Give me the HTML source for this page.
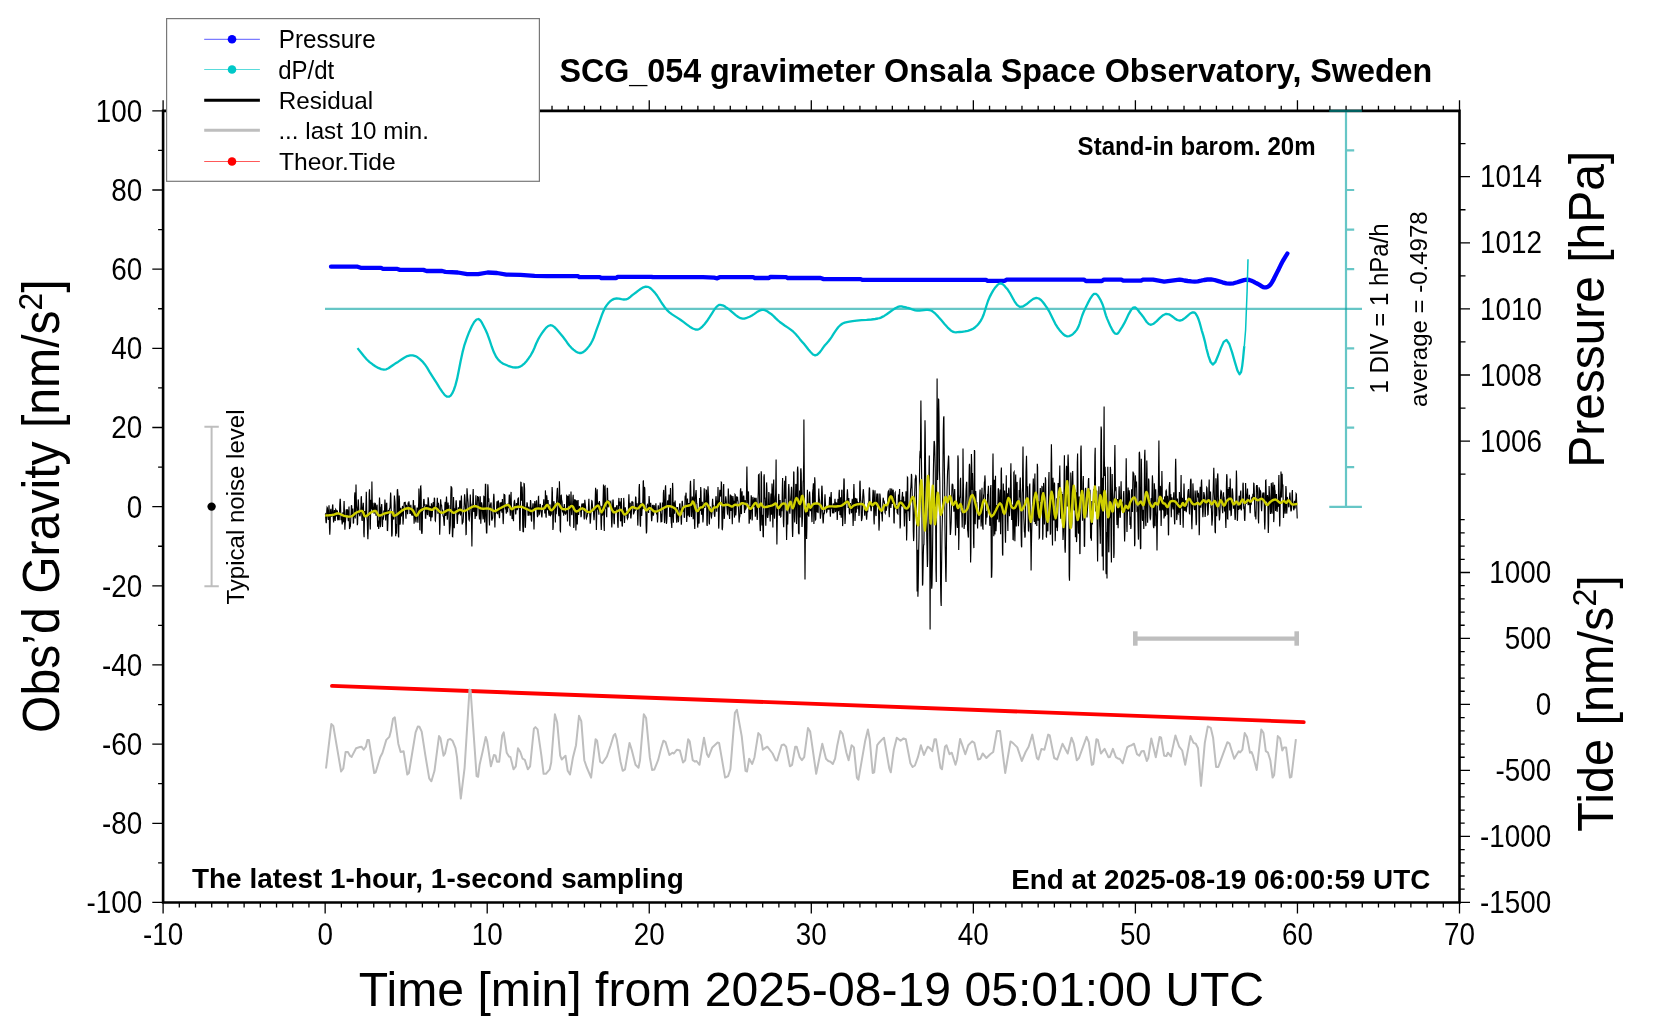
<!DOCTYPE html>
<html><head><meta charset="utf-8"><style>
html,body{margin:0;padding:0;background:#fff;}
svg{display:block;}
text{font-family:"Liberation Sans", sans-serif;fill:#000;filter:grayscale(1);}
</style></head><body>
<svg width="1660" height="1020" viewBox="0 0 1660 1020">
<rect width="1660" height="1020" fill="#fff"/>
<path d="M161.80 902.45 H1460.80 M161.80 110.85 H1460.80 M163.10 110.85 V902.45 M1459.50 110.85 V902.45" stroke="#000" fill="none" stroke-width="2.6"/>
<path d="M163.10 902.45 V913.45 M163.10 110.85 V100.35 M179.31 902.45 V907.45 M179.31 110.85 V105.65 M195.51 902.45 V907.45 M195.51 110.85 V105.65 M211.72 902.45 V907.45 M211.72 110.85 V105.65 M227.92 902.45 V907.45 M227.92 110.85 V105.65 M244.12 902.45 V907.45 M244.12 110.85 V105.65 M260.33 902.45 V907.45 M260.33 110.85 V105.65 M276.54 902.45 V907.45 M276.54 110.85 V105.65 M292.74 902.45 V907.45 M292.74 110.85 V105.65 M308.94 902.45 V907.45 M308.94 110.85 V105.65 M325.15 902.45 V913.45 M325.15 110.85 V100.35 M341.36 902.45 V907.45 M341.36 110.85 V105.65 M357.56 902.45 V907.45 M357.56 110.85 V105.65 M373.76 902.45 V907.45 M373.76 110.85 V105.65 M389.97 902.45 V907.45 M389.97 110.85 V105.65 M406.17 902.45 V907.45 M406.17 110.85 V105.65 M422.38 902.45 V907.45 M422.38 110.85 V105.65 M438.59 902.45 V907.45 M438.59 110.85 V105.65 M454.79 902.45 V907.45 M454.79 110.85 V105.65 M471.00 902.45 V907.45 M471.00 110.85 V105.65 M487.20 902.45 V913.45 M487.20 110.85 V100.35 M503.40 902.45 V907.45 M503.40 110.85 V105.65 M519.61 902.45 V907.45 M519.61 110.85 V105.65 M535.82 902.45 V907.45 M535.82 110.85 V105.65 M552.02 902.45 V907.45 M552.02 110.85 V105.65 M568.23 902.45 V907.45 M568.23 110.85 V105.65 M584.43 902.45 V907.45 M584.43 110.85 V105.65 M600.63 902.45 V907.45 M600.63 110.85 V105.65 M616.84 902.45 V907.45 M616.84 110.85 V105.65 M633.05 902.45 V907.45 M633.05 110.85 V105.65 M649.25 902.45 V913.45 M649.25 110.85 V100.35 M665.46 902.45 V907.45 M665.46 110.85 V105.65 M681.66 902.45 V907.45 M681.66 110.85 V105.65 M697.87 902.45 V907.45 M697.87 110.85 V105.65 M714.07 902.45 V907.45 M714.07 110.85 V105.65 M730.27 902.45 V907.45 M730.27 110.85 V105.65 M746.48 902.45 V907.45 M746.48 110.85 V105.65 M762.69 902.45 V907.45 M762.69 110.85 V105.65 M778.89 902.45 V907.45 M778.89 110.85 V105.65 M795.10 902.45 V907.45 M795.10 110.85 V105.65 M811.30 902.45 V913.45 M811.30 110.85 V100.35 M827.50 902.45 V907.45 M827.50 110.85 V105.65 M843.71 902.45 V907.45 M843.71 110.85 V105.65 M859.92 902.45 V907.45 M859.92 110.85 V105.65 M876.12 902.45 V907.45 M876.12 110.85 V105.65 M892.33 902.45 V907.45 M892.33 110.85 V105.65 M908.53 902.45 V907.45 M908.53 110.85 V105.65 M924.74 902.45 V907.45 M924.74 110.85 V105.65 M940.94 902.45 V907.45 M940.94 110.85 V105.65 M957.15 902.45 V907.45 M957.15 110.85 V105.65 M973.35 902.45 V913.45 M973.35 110.85 V100.35 M989.56 902.45 V907.45 M989.56 110.85 V105.65 M1005.76 902.45 V907.45 M1005.76 110.85 V105.65 M1021.97 902.45 V907.45 M1021.97 110.85 V105.65 M1038.17 902.45 V907.45 M1038.17 110.85 V105.65 M1054.38 902.45 V907.45 M1054.38 110.85 V105.65 M1070.58 902.45 V907.45 M1070.58 110.85 V105.65 M1086.79 902.45 V907.45 M1086.79 110.85 V105.65 M1102.99 902.45 V907.45 M1102.99 110.85 V105.65 M1119.19 902.45 V907.45 M1119.19 110.85 V105.65 M1135.40 902.45 V913.45 M1135.40 110.85 V100.35 M1151.61 902.45 V907.45 M1151.61 110.85 V105.65 M1167.81 902.45 V907.45 M1167.81 110.85 V105.65 M1184.02 902.45 V907.45 M1184.02 110.85 V105.65 M1200.22 902.45 V907.45 M1200.22 110.85 V105.65 M1216.42 902.45 V907.45 M1216.42 110.85 V105.65 M1232.63 902.45 V907.45 M1232.63 110.85 V105.65 M1248.84 902.45 V907.45 M1248.84 110.85 V105.65 M1265.04 902.45 V907.45 M1265.04 110.85 V105.65 M1281.24 902.45 V907.45 M1281.24 110.85 V105.65 M1297.45 902.45 V913.45 M1297.45 110.85 V100.35 M1313.65 902.45 V907.45 M1313.65 110.85 V105.65 M1329.86 902.45 V907.45 M1329.86 110.85 V105.65 M1346.07 902.45 V907.45 M1346.07 110.85 V105.65 M1362.27 902.45 V907.45 M1362.27 110.85 V105.65 M1378.47 902.45 V907.45 M1378.47 110.85 V105.65 M1394.68 902.45 V907.45 M1394.68 110.85 V105.65 M1410.88 902.45 V907.45 M1410.88 110.85 V105.65 M1427.09 902.45 V907.45 M1427.09 110.85 V105.65 M1443.30 902.45 V907.45 M1443.30 110.85 V105.65 M1459.50 902.45 V913.45 M1459.50 110.85 V100.35 M163.10 902.45 H152.30 M163.10 862.87 H158.10 M163.10 823.29 H152.30 M163.10 783.71 H158.10 M163.10 744.13 H152.30 M163.10 704.55 H158.10 M163.10 664.97 H152.30 M163.10 625.39 H158.10 M163.10 585.81 H152.30 M163.10 546.23 H158.10 M163.10 506.65 H152.30 M163.10 467.07 H158.10 M163.10 427.49 H152.30 M163.10 387.91 H158.10 M163.10 348.33 H152.30 M163.10 308.75 H158.10 M163.10 269.17 H152.30 M163.10 229.59 H158.10 M163.10 190.01 H152.30 M163.10 150.43 H158.10 M163.10 110.85 H152.30 M1459.50 474.15 H1465.50 M1459.50 441.10 H1470.00 M1459.50 408.05 H1465.50 M1459.50 375.00 H1470.00 M1459.50 341.95 H1465.50 M1459.50 308.90 H1470.00 M1459.50 275.85 H1465.50 M1459.50 242.80 H1470.00 M1459.50 209.75 H1465.50 M1459.50 176.70 H1470.00 M1459.50 143.65 H1465.50 M1459.50 902.41 H1470.00 M1459.50 889.21 H1464.70 M1459.50 876.01 H1464.70 M1459.50 862.81 H1464.70 M1459.50 849.62 H1464.70 M1459.50 836.42 H1470.00 M1459.50 823.22 H1464.70 M1459.50 810.03 H1464.70 M1459.50 796.83 H1464.70 M1459.50 783.63 H1464.70 M1459.50 770.44 H1470.00 M1459.50 757.24 H1464.70 M1459.50 744.04 H1464.70 M1459.50 730.84 H1464.70 M1459.50 717.65 H1464.70 M1459.50 704.45 H1470.00 M1459.50 691.25 H1464.70 M1459.50 678.06 H1464.70 M1459.50 664.86 H1464.70 M1459.50 651.66 H1464.70 M1459.50 638.47 H1470.00 M1459.50 625.27 H1464.70 M1459.50 612.07 H1464.70 M1459.50 598.87 H1464.70 M1459.50 585.68 H1464.70 M1459.50 572.48 H1470.00 M1459.50 559.28 H1464.70 M1459.50 546.09 H1464.70 M1459.50 532.89 H1464.70 M1459.50 519.69 H1464.70" stroke="#000" fill="none" stroke-width="1.3"/>
<path d="M211.6 426.8 V586.3 M204.4 426.8 H218.8 M204.4 586.3 H218.8" stroke="#bebebe" stroke-width="2" fill="none"/>
<circle cx="211.6" cy="506.6" r="4.2" fill="#000"/>
<path d="M1135 638.7 H1297" stroke="#bebebe" stroke-width="4.2" fill="none"/>
<rect x="1133" y="631.3" width="4.6" height="14.4" fill="#bebebe"/><rect x="1294.4" y="631.3" width="4.6" height="14.4" fill="#bebebe"/>
<path d="M1346 110.8 V506.8 M1329.3 110.8 H1361.9 M1329.3 506.8 H1361.9 M1346 150.4 H1354.2 M1346 190.0 H1354.2 M1346 229.6 H1354.2 M1346 269.2 H1354.2 M1346 348.4 H1354.2 M1346 388.0 H1354.2 M1346 427.6 H1354.2 M1346 467.2 H1354.2" stroke="#00a0a0" stroke-opacity="0.6" stroke-width="2.2" fill="none"/>
<path d="M325 308.9 H1362" stroke="#00a0a0" stroke-opacity="0.6" stroke-width="2.2" fill="none"/>
<path d="M331.0 266.7 L357.6 266.7 L360.7 267.8 L381.0 267.8 L382.6 268.8 L396.7 268.8 L399.9 269.9 L423.4 269.9 L426.5 271.0 L442.2 271.0 L445.3 271.9 L457.8 272.5 L467.2 274.1 L478.2 274.1 L487.6 272.5 L497.0 273.0 L506.4 274.6 L520.5 274.9 L534.6 275.8 L547.1 276.1 L564.3 276.1 L577.8 276.1 L579.4 277.2 L599.8 277.2 L601.3 278.0 L616.2 278.0 L617.8 276.8 L651.4 276.8 L653.0 277.2 L703.0 277.2 L714.1 277.7 L717.2 278.3 L719.6 277.2 L753.2 277.2 L754.8 278.0 L768.9 278.0 L770.5 276.8 L786.1 277.2 L787.7 278.0 L820.6 278.0 L823.7 279.1 L860.7 279.1 L862.3 279.9 L986.0 279.9 L987.6 280.8 L1004.8 280.8 L1006.4 279.7 L1083.9 279.6 L1085.9 281.0 L1101.9 281.0 L1103.9 279.6 L1121.3 279.6 L1123.3 280.7 L1140.7 280.7 L1143.4 279.6 L1153.1 279.6 L1164.2 281.7 L1179.5 279.6 L1181.6 279.9 L1184.4 280.5 L1187.8 281.0 L1191.4 281.4 L1194.7 281.6 L1197.8 281.3 L1201.0 280.7 L1204.2 280.0 L1207.5 279.5 L1210.9 279.4 L1214.6 280.0 L1218.4 281.1 L1222.4 282.3 L1226.3 283.3 L1230.0 283.7 L1233.6 283.3 L1237.2 282.3 L1240.7 281.1 L1244.0 280.1 L1246.9 279.7 L1249.4 280.0 L1251.5 280.7 L1253.5 281.6 L1255.2 282.6 L1257.0 283.5 L1258.7 284.4 L1260.3 285.4 L1261.8 286.3 L1263.2 287.1 L1264.6 287.4 L1265.9 287.4 L1267.0 287.2 L1268.2 286.6 L1269.3 285.8 L1270.5 284.5 L1271.8 282.6 L1273.2 280.2 L1274.5 277.5 L1275.9 274.8 L1277.1 272.4 L1278.2 270.3 L1279.2 268.2 L1280.1 266.3 L1281.0 264.4 L1282.0 262.5 L1283.1 260.5 L1284.4 258.4 L1285.6 256.4 L1286.7 254.7 L1287.4 253.5" stroke="#0000ff" stroke-width="4.3" fill="none" stroke-linejoin="round" stroke-linecap="round"/>
<path d="M357.5 348.1 L359.1 350.1 L361.4 353.0 L364.0 356.3 L366.8 359.5 L369.6 362.1 L372.4 364.2 L375.3 366.2 L378.3 367.9 L381.2 369.1 L383.9 369.6 L386.3 369.3 L388.5 368.3 L390.6 366.8 L392.8 365.2 L395.2 363.6 L398.0 361.9 L401.1 359.8 L404.2 357.7 L407.3 356.1 L410.2 355.3 L412.8 355.4 L415.3 356.1 L417.6 357.3 L419.9 359.1 L422.3 361.3 L424.7 364.2 L427.1 367.7 L429.4 371.6 L431.9 375.6 L434.3 379.4 L436.9 383.4 L439.6 387.8 L442.3 391.9 L444.8 395.1 L447.1 396.7 L449.0 396.7 L450.7 395.6 L452.2 393.4 L453.8 390.0 L455.4 385.4 L457.1 378.9 L458.8 370.5 L460.6 361.3 L462.5 352.4 L464.5 344.8 L466.8 338.2 L469.2 331.9 L471.8 326.3 L474.2 322.0 L476.5 319.5 L478.5 319.0 L480.2 320.2 L481.9 322.7 L483.6 326.0 L485.5 329.7 L487.5 334.3 L489.6 340.2 L491.7 346.5 L493.9 352.3 L496.1 356.8 L498.4 359.9 L500.8 362.1 L503.2 363.7 L505.7 364.8 L508.1 365.8 L510.5 366.7 L513.0 367.3 L515.5 367.5 L517.9 367.3 L520.2 366.6 L522.4 365.2 L524.6 363.3 L526.7 360.9 L528.7 358.2 L530.7 355.3 L532.6 351.9 L534.4 348.0 L536.1 343.8 L537.9 339.9 L539.8 336.5 L541.8 333.4 L543.9 330.5 L546.0 327.9 L548.2 326.0 L550.3 325.2 L552.4 325.6 L554.5 327.1 L556.6 329.3 L558.7 331.8 L560.8 334.2 L562.9 336.8 L565.1 339.7 L567.2 342.7 L569.3 345.5 L571.4 347.8 L573.4 349.6 L575.4 351.2 L577.3 352.4 L579.3 353.0 L581.2 353.0 L583.2 352.1 L585.3 350.5 L587.3 348.4 L589.3 345.9 L591.0 343.3 L592.5 340.5 L593.8 337.5 L595.0 334.2 L596.2 330.7 L597.5 327.2 L598.9 323.3 L600.4 319.1 L601.9 314.9 L603.5 311.0 L605.1 307.7 L606.8 305.1 L608.5 303.0 L610.2 301.2 L612.1 299.9 L614.1 298.9 L616.4 298.5 L618.9 298.7 L621.5 299.2 L623.9 299.5 L626.1 299.4 L627.8 298.7 L629.2 297.8 L630.6 296.7 L632.0 295.4 L633.7 294.1 L635.9 292.5 L638.3 290.6 L640.9 288.7 L643.4 287.3 L645.7 286.6 L647.7 286.8 L649.4 287.5 L651.1 288.7 L652.8 290.5 L654.8 292.6 L657.0 295.5 L659.3 299.1 L661.7 303.0 L664.3 306.7 L666.8 309.9 L669.4 312.3 L672.1 314.4 L674.8 316.1 L677.6 317.9 L680.4 319.7 L683.4 321.9 L686.6 324.3 L689.8 326.7 L692.8 328.5 L695.4 329.5 L697.6 329.6 L699.3 329.0 L700.9 327.9 L702.6 326.3 L704.5 324.2 L706.8 321.3 L709.4 317.4 L712.0 313.3 L714.4 309.5 L716.5 306.9 L718.1 305.5 L719.3 304.9 L720.4 304.9 L721.4 305.1 L722.5 305.4 L723.6 305.7 L724.6 306.3 L725.7 307.1 L727.0 308.0 L728.6 309.2 L730.7 310.8 L733.1 312.9 L735.7 315.1 L738.3 317.0 L740.6 318.2 L742.5 318.7 L744.3 318.6 L745.9 318.2 L747.6 317.5 L749.6 316.7 L751.9 315.5 L754.4 313.9 L756.9 312.1 L759.4 310.7 L761.7 309.9 L763.7 309.9 L765.5 310.4 L767.2 311.3 L768.9 312.5 L770.7 313.7 L772.4 315.0 L774.1 316.6 L775.8 318.4 L777.7 320.2 L779.8 322.0 L782.3 323.8 L785.0 325.7 L787.9 327.6 L790.7 329.6 L793.3 331.7 L795.6 334.0 L797.7 336.4 L799.7 338.9 L801.8 341.4 L803.9 343.8 L806.1 346.5 L808.4 349.5 L810.8 352.3 L813.0 354.5 L815.2 355.4 L817.3 354.7 L819.4 352.7 L821.4 350.1 L823.3 347.4 L824.9 345.3 L826.1 344.0 L827.0 343.0 L827.8 342.1 L828.7 341.0 L830.0 339.3 L831.7 336.8 L833.7 333.7 L835.9 330.4 L838.2 327.3 L840.5 325.0 L842.6 323.5 L844.7 322.6 L846.9 322.1 L849.5 321.7 L852.6 321.2 L856.7 320.7 L861.5 320.2 L866.6 319.9 L871.4 319.5 L875.2 319.0 L877.8 318.5 L879.6 318.1 L880.9 317.6 L882.3 316.9 L884.2 315.9 L886.7 314.3 L889.5 312.3 L892.5 310.1 L895.3 308.2 L897.8 306.9 L899.9 306.4 L901.7 306.4 L903.3 306.8 L905.0 307.2 L906.8 307.7 L908.8 308.2 L910.9 308.9 L913.0 309.7 L915.2 310.3 L917.3 310.7 L919.5 310.7 L921.7 310.4 L923.9 310.1 L926.0 309.8 L927.9 309.9 L929.5 310.2 L930.8 310.5 L932.0 311.0 L933.5 312.1 L935.4 313.7 L938.0 316.4 L941.2 320.1 L944.5 324.0 L947.7 327.6 L950.5 330.2 L952.6 331.6 L954.3 332.2 L955.9 332.4 L957.5 332.2 L959.5 332.0 L962.0 331.8 L964.8 331.4 L967.8 330.8 L970.6 329.9 L973.1 328.7 L975.2 327.2 L977.1 325.5 L978.8 323.5 L980.5 321.1 L982.1 318.2 L983.7 314.5 L985.1 310.2 L986.5 305.5 L988.0 301.0 L989.6 297.1 L991.4 293.6 L993.4 290.2 L995.5 287.2 L997.5 284.9 L999.4 283.6 L1001.1 283.4 L1002.6 284.1 L1004.2 285.5 L1005.8 287.4 L1007.7 289.6 L1009.8 292.8 L1012.1 297.0 L1014.5 301.3 L1017.0 304.9 L1019.8 306.9 L1022.9 306.5 L1026.4 304.3 L1029.9 301.4 L1033.3 298.9 L1036.3 297.9 L1038.8 298.5 L1041.0 300.0 L1043.0 302.2 L1044.9 304.8 L1046.9 307.7 L1049.0 311.1 L1051.1 315.3 L1053.3 319.7 L1055.3 323.8 L1057.4 327.2 L1059.4 329.9 L1061.4 332.3 L1063.3 334.3 L1065.3 335.7 L1067.2 336.3 L1069.2 336.1 L1071.2 335.3 L1073.2 333.8 L1075.1 331.9 L1076.9 329.6 L1078.4 326.8 L1079.7 323.3 L1080.9 319.5 L1082.2 315.5 L1083.7 311.8 L1085.6 307.8 L1087.7 303.4 L1089.9 299.2 L1092.1 295.8 L1094.0 293.9 L1095.7 293.8 L1097.3 294.9 L1098.8 297.0 L1100.3 299.6 L1101.6 302.2 L1102.8 305.0 L1103.8 308.2 L1104.8 311.7 L1105.9 315.3 L1107.1 318.6 L1108.6 322.1 L1110.2 325.8 L1112.0 329.3 L1113.7 332.1 L1115.3 333.7 L1116.7 333.9 L1118.0 333.2 L1119.2 331.6 L1120.6 329.4 L1122.2 326.9 L1124.2 323.4 L1126.4 318.9 L1128.7 314.1 L1131.0 310.1 L1133.1 307.7 L1134.9 307.3 L1136.5 308.4 L1138.1 310.3 L1139.7 312.5 L1141.4 314.5 L1143.1 316.7 L1144.9 319.4 L1146.7 322.0 L1148.7 324.0 L1151.0 324.8 L1153.7 323.7 L1156.7 321.1 L1159.9 317.9 L1163.1 315.2 L1166.1 313.8 L1169.0 314.3 L1171.7 316.0 L1174.5 318.2 L1177.2 320.0 L1179.8 320.7 L1182.5 319.8 L1185.2 317.9 L1187.8 315.6 L1190.2 313.5 L1192.2 312.5 L1193.7 312.4 L1194.9 312.9 L1195.8 313.8 L1196.7 315.3 L1197.7 317.3 L1198.7 319.8 L1199.7 322.9 L1200.7 326.5 L1201.8 330.6 L1203.2 335.1 L1204.8 341.1 L1206.5 348.7 L1208.5 356.1 L1210.6 362.0 L1212.8 364.6 L1215.3 362.2 L1218.0 355.8 L1220.9 348.1 L1223.7 341.9 L1226.5 339.9 L1229.3 344.0 L1232.1 352.4 L1234.9 362.1 L1237.4 370.4 L1239.5 374.2 L1241.1 372.1 L1242.2 366.1 L1243.1 358.3 L1243.8 350.9 L1244.3 346.1" stroke="#00c4c4" stroke-width="2.3" fill="none" stroke-linejoin="round"/>
<path d="M1244.3 346.1 L1245.6 330 L1247.1 291.2 L1248 259.3" stroke="#00c4c4" stroke-width="1.5" fill="none" stroke-linejoin="round"/>
<path d="M325.2 514.6 L325.5 514.2 L325.7 517.4 L326.0 522.1 L326.3 523.2 L326.6 517.6 L326.8 510.3 L327.1 507.4 L327.4 507.9 L327.6 510.3 L327.9 513.7 L328.2 518.9 L328.4 520.0 L328.7 511.4 L329.0 505.3 L329.3 512.7 L329.5 527.9 L329.8 534.8 L330.1 528.6 L330.3 517.9 L330.6 510.4 L330.9 508.9 L331.1 512.0 L331.4 516.0 L331.7 516.2 L332.0 515.6 L332.2 512.6 L332.5 506.0 L332.8 504.4 L333.0 509.8 L333.3 518.3 L333.6 522.5 L333.8 520.0 L334.1 514.2 L334.4 510.0 L334.7 511.8 L334.9 518.0 L335.2 521.0 L335.5 515.6 L335.7 509.4 L336.0 509.9 L336.3 510.6 L336.5 513.4 L336.8 516.5 L337.1 511.3 L337.4 510.5 L337.6 518.8 L337.9 520.3 L338.2 517.0 L338.4 515.0 L338.7 514.0 L339.0 518.1 L339.2 520.3 L339.5 512.9 L339.8 504.2 L340.1 499.4 L340.3 499.4 L340.6 506.6 L340.9 516.4 L341.1 520.1 L341.4 516.7 L341.7 516.7 L341.9 521.2 L342.2 524.5 L342.5 521.1 L342.8 512.8 L343.0 512.4 L343.3 521.7 L343.6 521.3 L343.8 508.6 L344.1 501.1 L344.4 509.9 L344.7 525.3 L344.9 529.7 L345.2 523.8 L345.5 520.9 L345.7 518.4 L346.0 511.7 L346.3 509.4 L346.5 513.2 L346.8 515.3 L347.1 512.6 L347.4 509.4 L347.6 510.6 L347.9 514.8 L348.2 520.2 L348.4 521.1 L348.7 512.0 L349.0 506.6 L349.2 516.2 L349.5 529.0 L349.8 527.8 L350.1 523.8 L350.3 527.3 L350.6 522.7 L350.9 515.9 L351.1 513.2 L351.4 505.2 L351.7 505.8 L351.9 514.1 L352.2 514.6 L352.5 510.5 L352.8 508.5 L353.0 512.6 L353.3 523.5 L353.6 522.8 L353.8 513.6 L354.1 516.9 L354.4 516.0 L354.6 496.4 L354.9 492.4 L355.2 518.5 L355.5 512.1 L355.7 502.9 L356.0 484.6 L356.3 498.2 L356.5 505.3 L356.8 508.1 L357.1 515.4 L357.3 525.2 L357.6 523.7 L357.9 509.5 L358.2 499.4 L358.4 500.6 L358.7 507.7 L359.0 513.0 L359.2 514.0 L359.5 514.5 L359.8 516.2 L360.1 515.3 L360.3 513.4 L360.6 512.0 L360.9 506.5 L361.1 498.2 L361.4 496.2 L361.7 507.1 L361.9 519.4 L362.2 520.9 L362.5 514.1 L362.8 508.2 L363.0 506.1 L363.3 502.8 L363.6 510.9 L363.8 533.1 L364.1 537.3 L364.4 521.3 L364.6 511.0 L364.9 513.2 L365.2 516.5 L365.5 514.6 L365.7 513.1 L366.0 504.1 L366.3 491.8 L366.5 499.8 L366.8 515.4 L367.1 519.3 L367.3 521.0 L367.6 533.4 L367.9 539.2 L368.2 529.5 L368.4 514.9 L368.7 515.9 L369.0 509.5 L369.2 493.2 L369.5 489.3 L369.8 499.9 L370.0 524.8 L370.3 529.5 L370.6 513.8 L370.9 499.7 L371.1 508.2 L371.4 508.5 L371.7 499.7 L371.9 481.6 L372.2 499.2 L372.5 507.9 L372.7 511.4 L373.0 502.9 L373.3 507.0 L373.6 510.3 L373.8 511.0 L374.1 513.6 L374.4 511.0 L374.6 503.9 L374.9 503.2 L375.2 503.5 L375.4 503.7 L375.7 511.4 L376.0 515.6 L376.3 514.7 L376.5 510.7 L376.8 505.3 L377.1 504.7 L377.3 513.1 L377.6 525.7 L377.9 526.8 L378.2 520.5 L378.4 523.5 L378.7 529.0 L379.0 522.4 L379.2 506.2 L379.5 497.5 L379.8 503.8 L380.0 518.2 L380.3 527.2 L380.6 524.6 L380.9 512.8 L381.1 506.8 L381.4 507.8 L381.7 504.1 L381.9 507.5 L382.2 521.8 L382.5 526.9 L382.7 518.9 L383.0 517.3 L383.3 519.7 L383.6 515.8 L383.8 510.4 L384.1 511.5 L384.4 514.7 L384.6 508.0 L384.9 499.5 L385.2 503.7 L385.4 516.5 L385.7 520.5 L386.0 513.6 L386.3 507.9 L386.5 503.2 L386.8 503.2 L387.1 517.0 L387.3 530.3 L387.6 530.4 L387.9 522.4 L388.1 512.2 L388.4 510.1 L388.7 513.9 L389.0 513.4 L389.2 510.4 L389.5 508.8 L389.8 508.4 L390.0 507.7 L390.3 501.1 L390.6 492.6 L390.8 494.5 L391.1 505.7 L391.4 518.8 L391.7 535.8 L391.9 536.5 L392.2 533.2 L392.5 516.4 L392.7 513.6 L393.0 514.5 L393.3 515.4 L393.6 519.5 L393.8 519.0 L394.1 506.1 L394.4 495.5 L394.6 498.3 L394.9 501.2 L395.2 505.5 L395.4 522.6 L395.7 536.3 L396.0 529.4 L396.3 524.0 L396.5 533.8 L396.8 524.2 L397.1 497.7 L397.3 489.9 L397.6 489.7 L397.9 493.8 L398.1 511.2 L398.4 536.1 L398.7 537.4 L399.0 516.9 L399.2 495.6 L399.5 501.3 L399.8 516.6 L400.0 524.6 L400.3 522.9 L400.6 513.6 L400.8 507.7 L401.1 511.1 L401.4 516.4 L401.7 511.0 L401.9 512.4 L402.2 512.7 L402.5 505.9 L402.7 513.5 L403.0 524.6 L403.3 520.8 L403.5 512.1 L403.8 507.4 L404.1 503.7 L404.4 502.2 L404.6 503.3 L404.9 503.0 L405.2 501.8 L405.4 505.2 L405.7 514.4 L406.0 518.8 L406.2 510.7 L406.5 504.8 L406.8 508.7 L407.1 510.1 L407.3 510.6 L407.6 514.3 L407.9 508.4 L408.1 502.6 L408.4 506.5 L408.7 504.9 L408.9 501.2 L409.2 504.3 L409.5 506.7 L409.8 509.6 L410.0 514.0 L410.3 512.6 L410.6 507.0 L410.8 504.8 L411.1 508.1 L411.4 513.2 L411.7 515.5 L411.9 512.2 L412.2 508.6 L412.5 511.7 L412.7 515.8 L413.0 510.1 L413.3 500.0 L413.5 501.4 L413.8 514.5 L414.1 523.7 L414.4 518.6 L414.6 509.0 L414.9 505.4 L415.2 509.2 L415.4 515.1 L415.7 520.4 L416.0 522.4 L416.2 518.2 L416.5 515.5 L416.8 513.3 L417.1 507.6 L417.3 508.6 L417.6 518.8 L417.9 522.8 L418.1 518.1 L418.4 508.5 L418.7 502.4 L418.9 488.6 L419.2 497.9 L419.5 506.0 L419.8 529.7 L420.0 529.8 L420.3 499.9 L420.6 486.3 L420.8 486.1 L421.1 491.8 L421.4 515.4 L421.6 532.2 L421.9 534.0 L422.2 531.5 L422.5 513.1 L422.7 507.0 L423.0 511.1 L423.3 509.7 L423.5 502.9 L423.8 499.0 L424.1 499.9 L424.3 504.3 L424.6 505.6 L424.9 504.1 L425.2 509.6 L425.4 518.1 L425.7 518.2 L426.0 512.0 L426.2 507.1 L426.5 505.0 L426.8 505.1 L427.0 508.1 L427.3 514.3 L427.6 515.0 L427.9 505.1 L428.1 497.3 L428.4 498.9 L428.7 503.3 L428.9 508.1 L429.2 514.8 L429.5 516.7 L429.8 511.7 L430.0 506.5 L430.3 506.7 L430.6 515.1 L430.8 521.2 L431.1 513.1 L431.4 503.2 L431.6 507.8 L431.9 517.3 L432.2 516.7 L432.5 509.7 L432.7 505.8 L433.0 503.7 L433.3 502.0 L433.5 505.5 L433.8 509.2 L434.1 504.9 L434.3 497.8 L434.6 498.4 L434.9 508.9 L435.2 520.6 L435.4 520.9 L435.7 515.2 L436.0 511.7 L436.2 507.7 L436.5 506.7 L436.8 508.5 L437.0 504.9 L437.3 497.7 L437.6 503.0 L437.9 513.8 L438.1 510.6 L438.4 502.7 L438.7 505.4 L438.9 507.4 L439.2 510.2 L439.5 524.2 L439.7 534.7 L440.0 526.6 L440.3 509.7 L440.6 499.3 L440.8 501.4 L441.1 506.1 L441.4 505.0 L441.6 505.4 L441.9 509.5 L442.2 511.8 L442.4 510.1 L442.7 510.5 L443.0 515.6 L443.3 516.5 L443.5 516.4 L443.8 520.5 L444.1 525.0 L444.3 525.8 L444.6 516.5 L444.9 504.3 L445.2 501.9 L445.4 508.7 L445.7 515.9 L446.0 513.1 L446.2 501.4 L446.5 496.5 L446.8 502.4 L447.0 512.8 L447.3 519.8 L447.6 517.2 L447.9 505.5 L448.1 502.6 L448.4 508.8 L448.7 506.0 L448.9 505.9 L449.2 522.0 L449.5 534.3 L449.7 532.3 L450.0 528.6 L450.3 525.3 L450.6 511.4 L450.8 495.3 L451.1 486.7 L451.4 486.9 L451.6 487.2 L451.9 488.7 L452.2 521.9 L452.4 536.5 L452.7 536.7 L453.0 529.8 L453.3 510.0 L453.5 497.1 L453.8 506.6 L454.1 526.3 L454.3 528.2 L454.6 516.1 L454.9 509.7 L455.1 510.1 L455.4 511.1 L455.7 508.1 L456.0 501.6 L456.2 500.3 L456.5 505.1 L456.8 511.1 L457.0 518.5 L457.3 524.0 L457.6 519.6 L457.8 513.1 L458.1 510.4 L458.4 507.3 L458.7 508.4 L458.9 513.6 L459.2 513.3 L459.5 507.5 L459.7 501.0 L460.0 500.4 L460.3 508.2 L460.5 515.4 L460.8 512.5 L461.1 502.6 L461.4 495.4 L461.6 501.1 L461.9 516.0 L462.2 524.4 L462.4 523.0 L462.7 522.6 L463.0 522.3 L463.3 518.2 L463.5 513.9 L463.8 509.8 L464.1 506.4 L464.3 500.5 L464.6 494.3 L464.9 497.2 L465.1 500.9 L465.4 505.2 L465.7 520.8 L466.0 534.6 L466.2 534.5 L466.5 519.2 L466.8 498.0 L467.0 488.2 L467.3 492.8 L467.6 497.6 L467.8 499.3 L468.1 502.7 L468.4 509.2 L468.7 515.6 L468.9 519.7 L469.2 520.3 L469.5 517.6 L469.7 515.5 L470.0 504.0 L470.3 494.6 L470.5 501.1 L470.8 505.5 L471.1 505.1 L471.4 516.0 L471.6 528.4 L471.9 546.6 L472.2 526.1 L472.4 515.1 L472.7 505.6 L473.0 492.5 L473.2 489.0 L473.5 501.7 L473.8 511.9 L474.1 510.1 L474.3 505.4 L474.6 508.4 L474.9 513.4 L475.1 519.0 L475.4 515.7 L475.7 500.4 L475.9 495.2 L476.2 507.5 L476.5 516.2 L476.8 513.8 L477.0 510.5 L477.3 503.6 L477.6 496.0 L477.8 498.3 L478.1 500.5 L478.4 496.9 L478.6 500.1 L478.9 508.2 L479.2 515.9 L479.5 519.4 L479.7 512.0 L480.0 496.7 L480.3 496.7 L480.5 513.3 L480.8 523.8 L481.1 517.8 L481.4 505.8 L481.6 502.3 L481.9 504.3 L482.2 506.3 L482.4 510.0 L482.7 514.5 L483.0 518.1 L483.2 519.3 L483.5 509.8 L483.8 496.5 L484.1 496.8 L484.3 512.1 L484.6 522.4 L484.9 516.6 L485.1 498.6 L485.4 484.2 L485.7 484.2 L485.9 504.6 L486.2 525.3 L486.5 532.8 L486.8 532.8 L487.0 525.6 L487.3 508.6 L487.6 494.6 L487.8 484.3 L488.1 487.5 L488.4 501.9 L488.6 499.4 L488.9 499.2 L489.2 519.3 L489.5 525.4 L489.7 514.5 L490.0 506.6 L490.3 504.9 L490.5 505.1 L490.8 503.3 L491.1 502.4 L491.3 508.7 L491.6 519.2 L491.9 520.7 L492.2 517.6 L492.4 519.2 L492.7 517.6 L493.0 511.0 L493.2 506.1 L493.5 499.0 L493.8 493.8 L494.0 495.9 L494.3 504.2 L494.6 518.9 L494.9 527.4 L495.1 519.8 L495.4 512.7 L495.7 513.8 L495.9 512.8 L496.2 512.2 L496.5 511.9 L496.8 504.1 L497.0 501.3 L497.3 509.8 L497.6 514.2 L497.8 508.7 L498.1 501.3 L498.4 500.5 L498.6 505.8 L498.9 512.5 L499.2 515.8 L499.5 518.3 L499.7 515.0 L500.0 503.1 L500.3 503.1 L500.5 511.3 L500.8 508.7 L501.1 503.1 L501.3 502.2 L501.6 507.9 L501.9 512.6 L502.2 505.5 L502.4 499.1 L502.7 507.3 L503.0 519.4 L503.2 524.1 L503.5 517.9 L503.8 504.0 L504.0 494.5 L504.3 494.8 L504.6 494.7 L504.9 495.3 L505.1 504.6 L505.4 509.5 L505.7 504.7 L505.9 505.1 L506.2 513.0 L506.5 513.6 L506.7 506.0 L507.0 505.4 L507.3 511.1 L507.6 511.4 L507.8 507.1 L508.1 503.9 L508.4 505.6 L508.6 508.2 L508.9 504.7 L509.2 495.9 L509.4 494.6 L509.7 502.7 L510.0 510.7 L510.3 515.7 L510.5 509.8 L510.8 495.8 L511.1 491.9 L511.3 501.7 L511.6 509.7 L511.9 515.0 L512.1 518.9 L512.4 514.2 L512.7 507.8 L513.0 509.4 L513.2 519.1 L513.5 521.2 L513.8 510.8 L514.0 503.2 L514.3 501.1 L514.6 500.7 L514.9 503.9 L515.1 507.3 L515.4 510.3 L515.7 514.5 L515.9 513.3 L516.2 506.8 L516.5 503.0 L516.7 505.0 L517.0 509.0 L517.3 510.2 L517.6 505.0 L517.8 499.8 L518.1 498.3 L518.4 498.1 L518.6 504.6 L518.9 508.5 L519.2 505.6 L519.4 510.6 L519.7 528.8 L520.0 531.0 L520.3 518.1 L520.5 497.5 L520.8 482.4 L521.1 482.5 L521.3 490.3 L521.6 500.7 L521.9 494.7 L522.1 486.4 L522.4 494.0 L522.7 524.7 L523.0 531.6 L523.2 531.8 L523.5 531.7 L523.8 496.7 L524.0 483.5 L524.3 483.7 L524.6 489.1 L524.8 514.1 L525.1 526.2 L525.4 527.8 L525.7 518.8 L525.9 508.1 L526.2 506.3 L526.5 508.6 L526.7 506.6 L527.0 502.3 L527.3 503.4 L527.5 507.1 L527.8 510.3 L528.1 515.8 L528.4 514.9 L528.6 506.7 L528.9 507.4 L529.2 511.6 L529.4 510.2 L529.7 513.8 L530.0 515.6 L530.3 506.3 L530.5 500.0 L530.8 501.9 L531.1 509.5 L531.3 519.7 L531.6 521.6 L531.9 513.0 L532.1 509.0 L532.4 509.4 L532.7 506.6 L533.0 503.3 L533.2 504.0 L533.5 511.3 L533.8 522.9 L534.0 529.4 L534.3 519.7 L534.6 504.3 L534.8 501.1 L535.1 507.8 L535.4 509.1 L535.7 506.4 L535.9 506.8 L536.2 503.5 L536.5 500.2 L536.7 503.3 L537.0 509.2 L537.3 515.5 L537.5 517.2 L537.8 514.2 L538.1 506.7 L538.4 496.8 L538.6 496.6 L538.9 507.8 L539.2 514.4 L539.4 514.1 L539.7 512.1 L540.0 507.3 L540.2 504.0 L540.5 505.1 L540.8 508.2 L541.1 511.0 L541.3 512.3 L541.6 515.9 L541.9 517.5 L542.1 514.7 L542.4 509.2 L542.7 505.0 L542.9 507.4 L543.2 509.5 L543.5 503.5 L543.8 499.4 L544.0 503.9 L544.3 505.8 L544.6 506.1 L544.8 513.4 L545.1 509.1 L545.4 490.4 L545.6 494.4 L545.9 516.1 L546.2 517.7 L546.5 503.8 L546.7 495.3 L547.0 498.4 L547.3 507.6 L547.5 510.2 L547.8 502.9 L548.1 500.1 L548.4 507.4 L548.6 512.7 L548.9 514.3 L549.2 515.8 L549.4 511.6 L549.7 505.2 L550.0 504.4 L550.2 510.4 L550.5 515.4 L550.8 515.0 L551.1 514.4 L551.3 514.2 L551.6 508.1 L551.9 496.3 L552.1 487.1 L552.4 491.9 L552.7 511.8 L552.9 529.9 L553.2 527.4 L553.5 508.4 L553.8 501.2 L554.0 502.3 L554.3 505.3 L554.6 510.2 L554.8 508.6 L555.1 515.7 L555.4 522.5 L555.6 507.9 L555.9 503.2 L556.2 514.1 L556.5 508.6 L556.7 498.0 L557.0 493.6 L557.3 488.6 L557.5 488.5 L557.8 496.6 L558.1 503.3 L558.3 508.3 L558.6 513.7 L558.9 516.2 L559.2 500.6 L559.4 481.3 L559.7 490.2 L560.0 517.7 L560.2 530.9 L560.5 531.4 L560.8 510.5 L561.0 495.5 L561.3 495.3 L561.6 500.1 L561.9 500.8 L562.1 502.4 L562.4 510.8 L562.7 512.4 L562.9 506.8 L563.2 507.9 L563.5 514.0 L563.7 515.8 L564.0 510.2 L564.3 504.1 L564.6 507.5 L564.8 513.7 L565.1 511.8 L565.4 511.9 L565.6 514.8 L565.9 512.3 L566.2 513.3 L566.5 509.7 L566.7 495.8 L567.0 496.2 L567.3 513.2 L567.5 521.5 L567.8 510.7 L568.1 495.7 L568.3 497.7 L568.6 504.7 L568.9 504.1 L569.2 494.2 L569.4 501.4 L569.7 525.1 L570.0 525.5 L570.2 512.1 L570.5 506.6 L570.8 498.9 L571.0 491.5 L571.3 501.7 L571.6 514.1 L571.9 515.2 L572.1 512.4 L572.4 506.7 L572.7 503.0 L572.9 497.7 L573.2 494.7 L573.5 508.5 L573.7 528.0 L574.0 526.2 L574.3 506.2 L574.6 499.4 L574.8 503.6 L575.1 500.0 L575.4 500.1 L575.6 515.9 L575.9 530.4 L576.2 521.0 L576.4 503.3 L576.7 500.2 L577.0 513.2 L577.3 524.4 L577.5 517.0 L577.8 502.7 L578.1 500.0 L578.3 509.7 L578.6 514.9 L578.9 511.4 L579.1 507.6 L579.4 506.6 L579.7 506.8 L580.0 509.1 L580.2 510.5 L580.5 510.6 L580.8 512.6 L581.0 517.1 L581.3 515.6 L581.6 506.1 L581.9 503.5 L582.1 506.4 L582.4 504.5 L582.7 505.0 L582.9 510.6 L583.2 509.3 L583.5 503.2 L583.7 505.5 L584.0 516.9 L584.3 519.5 L584.6 506.8 L584.8 499.8 L585.1 503.0 L585.4 505.5 L585.6 506.9 L585.9 512.4 L586.2 518.0 L586.4 518.5 L586.7 517.0 L587.0 516.9 L587.3 515.0 L587.5 512.4 L587.8 512.8 L588.1 512.9 L588.3 511.3 L588.6 504.0 L588.9 498.7 L589.1 504.5 L589.4 512.0 L589.7 513.6 L590.0 517.7 L590.2 523.7 L590.5 521.4 L590.8 515.8 L591.0 513.1 L591.3 509.2 L591.6 503.8 L591.8 500.7 L592.1 501.0 L592.4 504.8 L592.7 509.3 L592.9 511.1 L593.2 511.0 L593.5 511.8 L593.7 516.0 L594.0 520.1 L594.3 516.4 L594.5 511.9 L594.8 510.6 L595.1 503.5 L595.4 493.4 L595.6 487.8 L595.9 497.5 L596.2 521.4 L596.4 530.0 L596.7 516.3 L597.0 492.1 L597.2 489.2 L597.5 507.1 L597.8 509.6 L598.1 502.7 L598.3 503.6 L598.6 510.9 L598.9 514.7 L599.1 506.5 L599.4 501.0 L599.7 504.4 L600.0 506.9 L600.2 506.0 L600.5 507.3 L600.8 512.3 L601.0 523.0 L601.3 529.9 L601.6 520.3 L601.8 506.6 L602.1 506.4 L602.4 515.1 L602.7 514.9 L602.9 506.2 L603.2 495.2 L603.5 484.6 L603.7 493.4 L604.0 525.0 L604.3 530.9 L604.5 508.1 L604.8 486.3 L605.1 486.0 L605.4 497.3 L605.6 507.9 L605.9 508.7 L606.2 507.6 L606.4 514.4 L606.7 517.2 L607.0 504.5 L607.2 488.3 L607.5 488.3 L607.8 500.2 L608.1 507.2 L608.3 506.6 L608.6 503.2 L608.9 500.4 L609.1 502.8 L609.4 504.5 L609.7 502.4 L609.9 502.3 L610.2 502.8 L610.5 502.2 L610.8 501.6 L611.0 503.2 L611.3 511.7 L611.6 523.2 L611.8 527.4 L612.1 521.8 L612.4 512.4 L612.6 504.5 L612.9 500.1 L613.2 500.1 L613.5 506.0 L613.7 514.9 L614.0 522.6 L614.3 524.2 L614.5 516.6 L614.8 508.2 L615.1 507.3 L615.4 510.9 L615.6 511.6 L615.9 509.3 L616.2 508.3 L616.4 507.0 L616.7 505.9 L617.0 505.1 L617.2 507.6 L617.5 517.1 L617.8 526.0 L618.1 527.8 L618.3 518.2 L618.6 502.3 L618.9 497.9 L619.1 504.2 L619.4 505.8 L619.7 502.0 L619.9 501.6 L620.2 509.7 L620.5 521.2 L620.8 520.4 L621.0 506.4 L621.3 497.9 L621.6 506.4 L621.8 519.7 L622.1 525.9 L622.4 526.6 L622.6 519.9 L622.9 512.8 L623.2 513.9 L623.5 508.1 L623.7 497.9 L624.0 502.6 L624.3 516.6 L624.5 522.9 L624.8 516.7 L625.1 508.9 L625.3 507.4 L625.6 509.7 L625.9 513.2 L626.2 515.3 L626.4 514.7 L626.7 511.6 L627.0 512.5 L627.2 517.9 L627.5 518.7 L627.8 517.3 L628.0 517.9 L628.3 513.6 L628.6 502.1 L628.9 494.2 L629.1 499.8 L629.4 511.8 L629.7 513.4 L629.9 503.4 L630.2 502.8 L630.5 511.9 L630.7 517.9 L631.0 517.9 L631.3 514.5 L631.6 507.5 L631.8 501.9 L632.1 501.7 L632.4 503.5 L632.6 502.6 L632.9 501.7 L633.2 508.4 L633.5 514.5 L633.7 513.5 L634.0 512.4 L634.3 512.0 L634.5 509.7 L634.8 509.4 L635.1 511.0 L635.3 505.3 L635.6 496.6 L635.9 497.4 L636.2 504.3 L636.4 508.0 L636.7 507.4 L637.0 503.6 L637.2 503.2 L637.5 514.8 L637.8 525.6 L638.0 521.2 L638.3 511.0 L638.6 503.7 L638.9 498.4 L639.1 487.9 L639.4 484.0 L639.7 498.8 L639.9 515.2 L640.2 524.5 L640.5 526.7 L640.7 516.1 L641.0 502.9 L641.3 505.5 L641.6 515.9 L641.8 514.9 L642.1 507.7 L642.4 508.9 L642.6 509.3 L642.9 498.1 L643.2 481.0 L643.4 480.9 L643.7 490.8 L644.0 508.8 L644.3 504.6 L644.5 486.9 L644.8 488.7 L645.1 504.5 L645.3 508.7 L645.6 507.4 L645.9 513.9 L646.1 525.9 L646.4 533.4 L646.7 531.4 L647.0 519.7 L647.2 505.2 L647.5 504.7 L647.8 508.2 L648.0 505.1 L648.3 509.2 L648.6 513.0 L648.8 503.7 L649.1 496.1 L649.4 500.4 L649.7 509.1 L649.9 509.8 L650.2 506.4 L650.5 504.4 L650.7 502.9 L651.0 506.0 L651.3 515.0 L651.6 521.1 L651.8 520.4 L652.1 515.9 L652.4 510.3 L652.6 505.5 L652.9 505.4 L653.2 510.7 L653.4 515.7 L653.7 513.4 L654.0 506.3 L654.3 505.2 L654.5 510.5 L654.8 511.4 L655.1 509.0 L655.3 510.2 L655.6 506.8 L655.9 503.4 L656.1 507.4 L656.4 513.0 L656.7 514.3 L657.0 509.9 L657.2 514.9 L657.5 522.4 L657.8 517.8 L658.0 509.5 L658.3 505.4 L658.6 509.6 L658.8 511.7 L659.1 509.9 L659.4 509.5 L659.7 509.3 L659.9 506.9 L660.2 502.6 L660.5 504.9 L660.7 516.7 L661.0 522.5 L661.3 513.4 L661.5 513.8 L661.8 522.1 L662.1 515.1 L662.4 502.6 L662.6 503.2 L662.9 508.5 L663.2 502.7 L663.4 493.2 L663.7 489.9 L664.0 499.9 L664.2 513.4 L664.5 523.1 L664.8 520.3 L665.1 503.2 L665.3 488.3 L665.6 485.3 L665.9 496.0 L666.1 513.7 L666.4 523.8 L666.7 522.3 L667.0 517.0 L667.2 510.1 L667.5 502.0 L667.8 500.4 L668.0 504.2 L668.3 506.5 L668.6 505.7 L668.8 500.3 L669.1 494.5 L669.4 500.0 L669.7 515.7 L669.9 517.0 L670.2 498.5 L670.5 488.0 L670.7 498.8 L671.0 517.8 L671.3 522.9 L671.5 524.0 L671.8 528.0 L672.1 515.7 L672.4 491.0 L672.6 482.9 L672.9 489.2 L673.2 515.0 L673.4 522.7 L673.7 509.8 L674.0 502.2 L674.2 509.4 L674.5 513.8 L674.8 506.5 L675.1 500.6 L675.3 503.8 L675.6 507.9 L675.9 506.8 L676.1 508.5 L676.4 518.0 L676.7 522.7 L676.9 515.4 L677.2 508.1 L677.5 507.1 L677.8 510.7 L678.0 517.7 L678.3 522.1 L678.6 520.4 L678.8 514.4 L679.1 510.7 L679.4 509.5 L679.6 504.3 L679.9 503.4 L680.2 507.8 L680.5 508.9 L680.7 510.1 L681.0 517.7 L681.3 524.7 L681.5 522.8 L681.8 511.6 L682.1 501.6 L682.3 500.8 L682.6 504.8 L682.9 508.8 L683.2 511.6 L683.4 510.8 L683.7 506.8 L684.0 509.6 L684.2 516.8 L684.5 517.8 L684.8 509.5 L685.1 497.1 L685.3 495.5 L685.6 499.9 L685.9 493.8 L686.1 492.7 L686.4 508.7 L686.7 522.0 L686.9 518.7 L687.2 505.9 L687.5 498.5 L687.8 507.1 L688.0 515.7 L688.3 512.2 L688.6 505.8 L688.8 503.1 L689.1 510.2 L689.4 517.1 L689.6 515.3 L689.9 502.7 L690.2 485.6 L690.5 480.7 L690.7 486.3 L691.0 501.8 L691.3 515.7 L691.5 517.0 L691.8 511.2 L692.1 503.4 L692.3 496.6 L692.6 500.6 L692.9 511.0 L693.2 519.3 L693.4 513.9 L693.7 491.0 L694.0 479.0 L694.2 496.3 L694.5 524.8 L694.8 528.9 L695.0 517.6 L695.3 499.2 L695.6 494.7 L695.9 492.0 L696.1 490.0 L696.4 497.0 L696.7 504.0 L696.9 503.1 L697.2 509.2 L697.5 522.4 L697.7 527.6 L698.0 523.1 L698.3 513.0 L698.6 511.5 L698.8 522.6 L699.1 523.5 L699.4 507.7 L699.6 498.1 L699.9 504.4 L700.2 511.1 L700.4 500.8 L700.7 487.0 L701.0 491.1 L701.3 506.8 L701.5 514.8 L701.8 511.4 L702.1 502.5 L702.3 501.8 L702.6 513.7 L702.9 522.4 L703.2 519.0 L703.4 513.5 L703.7 506.9 L704.0 496.2 L704.2 488.3 L704.5 495.9 L704.8 508.0 L705.0 505.3 L705.3 500.8 L705.6 505.1 L705.9 501.0 L706.1 490.1 L706.4 490.3 L706.7 506.7 L706.9 524.4 L707.2 525.9 L707.5 511.1 L707.7 492.8 L708.0 486.2 L708.3 492.7 L708.6 496.6 L708.8 506.4 L709.1 522.4 L709.4 524.4 L709.6 515.8 L709.9 510.8 L710.2 507.2 L710.4 506.6 L710.7 510.0 L711.0 512.9 L711.3 517.1 L711.5 517.5 L711.8 514.4 L712.1 512.0 L712.3 504.2 L712.6 498.9 L712.9 503.8 L713.1 508.0 L713.4 507.2 L713.7 506.6 L714.0 508.9 L714.2 513.5 L714.5 515.3 L714.8 516.8 L715.0 513.6 L715.3 506.8 L715.6 503.6 L715.8 498.0 L716.1 496.2 L716.4 504.5 L716.7 511.8 L716.9 505.1 L717.2 500.5 L717.5 507.4 L717.7 500.8 L718.0 487.1 L718.3 501.2 L718.6 525.7 L718.8 528.6 L719.1 516.7 L719.4 504.7 L719.6 493.9 L719.9 489.8 L720.2 496.5 L720.4 495.9 L720.7 494.6 L721.0 495.3 L721.3 482.2 L721.5 482.4 L721.8 510.0 L722.1 529.2 L722.3 529.4 L722.6 526.9 L722.9 515.6 L723.1 505.2 L723.4 486.8 L723.7 484.1 L724.0 505.1 L724.2 519.0 L724.5 517.0 L724.8 507.4 L725.0 504.4 L725.3 502.9 L725.6 498.0 L725.8 496.2 L726.1 499.6 L726.4 502.9 L726.7 504.5 L726.9 506.6 L727.2 510.1 L727.5 513.8 L727.7 514.1 L728.0 501.7 L728.3 488.4 L728.5 493.8 L728.8 504.7 L729.1 509.3 L729.4 515.6 L729.6 518.9 L729.9 509.8 L730.2 496.6 L730.4 494.6 L730.7 503.5 L731.0 511.1 L731.2 506.2 L731.5 495.5 L731.8 500.1 L732.1 516.7 L732.3 524.3 L732.6 511.6 L732.9 496.0 L733.1 498.0 L733.4 502.0 L733.7 500.9 L733.9 503.7 L734.2 511.9 L734.5 517.6 L734.8 508.7 L735.0 494.5 L735.3 494.9 L735.6 505.6 L735.8 515.5 L736.1 511.3 L736.4 498.7 L736.7 496.2 L736.9 501.1 L737.2 498.5 L737.5 496.9 L737.7 499.5 L738.0 501.2 L738.3 505.6 L738.5 509.1 L738.8 515.4 L739.1 522.6 L739.4 518.9 L739.6 517.1 L739.9 516.2 L740.2 503.5 L740.4 490.2 L740.7 488.3 L741.0 497.7 L741.2 513.9 L741.5 513.3 L741.8 497.0 L742.1 491.3 L742.3 498.5 L742.6 504.5 L742.9 502.3 L743.1 498.5 L743.4 496.9 L743.7 495.5 L743.9 497.3 L744.2 506.2 L744.5 512.9 L744.8 508.5 L745.0 500.2 L745.3 502.0 L745.6 507.8 L745.8 508.7 L746.1 507.8 L746.4 497.6 L746.6 486.6 L746.9 466.6 L747.2 486.9 L747.5 497.6 L747.7 503.4 L748.0 498.8 L748.3 493.0 L748.5 491.4 L748.8 505.6 L749.1 523.7 L749.3 522.7 L749.6 509.5 L749.9 506.3 L750.2 516.8 L750.4 519.4 L750.7 511.2 L751.0 500.8 L751.2 495.2 L751.5 498.0 L751.8 508.1 L752.1 520.5 L752.3 519.0 L752.6 504.7 L752.9 496.9 L753.1 498.2 L753.4 501.4 L753.7 505.3 L753.9 506.7 L754.2 502.9 L754.5 498.6 L754.8 497.7 L755.0 506.1 L755.3 516.7 L755.6 513.0 L755.8 500.5 L756.1 497.8 L756.4 502.7 L756.6 507.2 L756.9 514.4 L757.2 519.9 L757.5 517.2 L757.7 507.9 L758.0 499.0 L758.3 491.9 L758.5 475.0 L758.8 474.7 L759.1 474.4 L759.3 486.0 L759.6 510.5 L759.9 523.4 L760.2 530.2 L760.4 531.0 L760.7 519.7 L761.0 494.5 L761.2 471.3 L761.5 476.1 L761.8 509.0 L762.0 525.4 L762.3 517.2 L762.6 514.7 L762.9 529.4 L763.1 536.7 L763.4 536.8 L763.7 512.1 L763.9 477.4 L764.2 474.3 L764.5 484.9 L764.7 498.8 L765.0 497.6 L765.3 505.9 L765.6 519.3 L765.8 525.7 L766.1 515.8 L766.4 494.2 L766.6 482.4 L766.9 489.1 L767.2 506.4 L767.4 517.0 L767.7 517.8 L768.0 515.7 L768.3 514.1 L768.5 503.8 L768.8 492.0 L769.1 493.7 L769.3 502.3 L769.6 507.4 L769.9 515.0 L770.2 521.5 L770.4 515.0 L770.7 497.9 L771.0 493.5 L771.2 507.8 L771.5 514.8 L771.8 501.3 L772.0 483.6 L772.3 490.7 L772.6 515.2 L772.9 527.6 L773.1 514.3 L773.4 488.2 L773.7 479.4 L773.9 494.5 L774.2 511.2 L774.5 518.7 L774.7 515.4 L775.0 503.9 L775.3 497.1 L775.6 494.4 L775.8 484.4 L776.1 459.6 L776.4 508.9 L776.6 522.0 L776.9 544.6 L777.2 524.2 L777.4 514.1 L777.7 505.8 L778.0 506.5 L778.3 507.5 L778.5 497.6 L778.8 493.9 L779.1 504.4 L779.3 515.7 L779.6 514.3 L779.9 503.8 L780.1 499.9 L780.4 508.5 L780.7 516.8 L781.0 516.5 L781.2 508.7 L781.5 506.4 L781.8 511.2 L782.0 506.3 L782.3 489.3 L782.6 478.0 L782.8 485.5 L783.1 506.0 L783.4 522.7 L783.7 527.2 L783.9 519.8 L784.2 506.5 L784.5 489.7 L784.7 480.7 L785.0 492.9 L785.3 498.6 L785.5 480.5 L785.8 475.9 L786.1 498.7 L786.4 528.0 L786.6 540.1 L786.9 527.3 L787.2 511.6 L787.4 518.6 L787.7 524.6 L788.0 513.2 L788.3 498.4 L788.5 488.9 L788.8 484.0 L789.1 490.3 L789.3 504.2 L789.6 511.4 L789.9 513.8 L790.1 508.6 L790.4 502.6 L790.7 498.6 L791.0 494.7 L791.2 492.2 L791.5 486.9 L791.8 490.8 L792.0 509.6 L792.3 528.4 L792.6 536.9 L792.8 533.2 L793.1 517.9 L793.4 489.0 L793.7 472.1 L793.9 472.2 L794.2 497.1 L794.5 517.5 L794.7 522.5 L795.0 515.1 L795.3 507.3 L795.5 497.5 L795.8 484.1 L796.1 484.7 L796.4 503.2 L796.6 524.0 L796.9 515.2 L797.2 487.9 L797.4 470.0 L797.7 466.5 L798.0 472.4 L798.2 502.8 L798.5 532.9 L798.8 533.6 L799.1 534.2 L799.3 505.2 L799.6 490.4 L799.9 507.4 L800.1 517.6 L800.4 498.2 L800.7 469.8 L800.9 468.3 L801.2 472.9 L801.5 493.4 L801.8 518.2 L802.0 527.0 L802.3 521.8 L802.6 513.1 L802.8 501.9 L803.1 481.9 L803.4 479.8 L803.7 460.1 L803.9 419.6 L804.2 463.3 L804.5 517.5 L804.7 538.6 L805.0 579.6 L805.3 541.8 L805.5 522.4 L805.8 505.8 L806.1 511.4 L806.4 528.1 L806.6 539.1 L806.9 527.2 L807.2 501.3 L807.4 489.8 L807.7 500.8 L808.0 514.2 L808.2 514.8 L808.5 514.5 L808.8 516.8 L809.1 509.2 L809.3 495.6 L809.6 491.5 L809.9 496.5 L810.1 503.9 L810.4 510.7 L810.7 510.8 L810.9 506.1 L811.2 505.0 L811.5 511.1 L811.8 519.3 L812.0 522.1 L812.3 510.5 L812.6 493.0 L812.8 490.7 L813.1 488.4 L813.4 483.3 L813.6 501.4 L813.9 523.9 L814.2 516.0 L814.5 492.2 L814.7 477.3 L815.0 481.2 L815.3 501.0 L815.5 519.8 L815.8 519.4 L816.1 507.1 L816.3 503.8 L816.6 510.1 L816.9 512.2 L817.2 508.1 L817.4 503.4 L817.7 505.0 L818.0 513.1 L818.2 512.0 L818.5 496.1 L818.8 488.6 L819.0 494.7 L819.3 498.6 L819.6 500.3 L819.9 504.7 L820.1 513.1 L820.4 518.7 L820.7 515.5 L820.9 514.1 L821.2 511.5 L821.5 497.7 L821.8 486.4 L822.0 485.8 L822.3 492.7 L822.6 505.6 L822.8 518.1 L823.1 523.4 L823.4 521.4 L823.6 515.8 L823.9 512.7 L824.2 514.2 L824.5 511.6 L824.7 499.4 L825.0 494.3 L825.3 500.8 L825.5 505.3 L825.8 506.3 L826.1 508.1 L826.3 510.5 L826.6 512.2 L826.9 511.7 L827.2 508.4 L827.4 506.0 L827.7 507.1 L828.0 509.6 L828.2 508.4 L828.5 505.6 L828.8 507.1 L829.0 509.6 L829.3 503.7 L829.6 496.7 L829.9 501.0 L830.1 512.0 L830.4 516.8 L830.7 509.3 L830.9 495.8 L831.2 492.1 L831.5 502.0 L831.7 508.6 L832.0 506.1 L832.3 507.4 L832.6 513.3 L832.8 512.3 L833.1 504.5 L833.4 503.4 L833.6 511.4 L833.9 513.3 L834.2 509.4 L834.4 507.9 L834.7 502.7 L835.0 498.9 L835.3 505.0 L835.5 512.1 L835.8 510.2 L836.1 505.0 L836.3 503.0 L836.6 503.3 L836.9 508.3 L837.2 520.0 L837.4 517.8 L837.7 503.5 L838.0 498.9 L838.2 506.2 L838.5 511.2 L838.8 507.4 L839.0 493.8 L839.3 489.7 L839.6 503.2 L839.9 515.1 L840.1 513.6 L840.4 500.8 L840.7 497.3 L840.9 510.4 L841.2 517.7 L841.5 506.0 L841.7 490.7 L842.0 489.7 L842.3 507.0 L842.6 526.1 L842.8 523.6 L843.1 512.4 L843.4 506.7 L843.6 491.5 L843.9 478.4 L844.2 479.7 L844.4 493.9 L844.7 513.4 L845.0 524.0 L845.3 519.1 L845.5 510.4 L845.8 503.6 L846.1 500.5 L846.3 502.3 L846.6 503.2 L846.9 500.8 L847.1 494.7 L847.4 489.3 L847.7 494.0 L848.0 503.4 L848.2 507.9 L848.5 503.9 L848.8 498.1 L849.0 502.9 L849.3 512.4 L849.6 514.3 L849.8 510.3 L850.1 504.9 L850.4 503.1 L850.7 505.8 L850.9 505.7 L851.2 508.3 L851.5 513.1 L851.7 509.4 L852.0 501.7 L852.3 498.9 L852.5 503.3 L852.8 514.4 L853.1 526.1 L853.4 518.2 L853.6 494.3 L853.9 484.0 L854.2 492.4 L854.4 500.5 L854.7 508.9 L855.0 520.9 L855.3 514.4 L855.5 497.9 L855.8 498.9 L856.1 512.5 L856.3 512.1 L856.6 499.9 L856.9 498.6 L857.1 503.4 L857.4 502.8 L857.7 505.6 L858.0 509.1 L858.2 502.9 L858.5 503.0 L858.8 512.4 L859.0 516.0 L859.3 512.6 L859.6 498.9 L859.8 482.9 L860.1 480.7 L860.4 494.3 L860.7 500.4 L860.9 500.7 L861.2 512.1 L861.5 521.1 L861.7 519.9 L862.0 518.8 L862.3 516.0 L862.5 505.0 L862.8 496.1 L863.1 491.2 L863.4 489.2 L863.6 492.8 L863.9 496.9 L864.2 502.9 L864.4 510.7 L864.7 515.7 L865.0 511.4 L865.2 507.1 L865.5 507.8 L865.8 508.6 L866.1 510.3 L866.3 516.0 L866.6 519.8 L866.9 516.1 L867.1 511.7 L867.4 511.9 L867.7 511.8 L867.9 506.5 L868.2 502.9 L868.5 506.2 L868.8 504.8 L869.0 494.3 L869.3 487.6 L869.6 488.3 L869.8 495.4 L870.1 505.7 L870.4 507.1 L870.6 505.2 L870.9 509.9 L871.2 511.2 L871.5 507.2 L871.7 506.4 L872.0 506.2 L872.3 504.1 L872.5 501.9 L872.8 495.8 L873.1 489.9 L873.4 491.6 L873.6 503.2 L873.9 519.4 L874.2 524.4 L874.4 512.0 L874.7 494.3 L875.0 490.2 L875.2 500.6 L875.5 509.1 L875.8 514.9 L876.1 516.0 L876.3 507.9 L876.6 497.6 L876.9 493.5 L877.1 497.9 L877.4 503.5 L877.7 498.1 L877.9 493.6 L878.2 499.0 L878.5 509.2 L878.8 522.6 L879.0 530.6 L879.3 525.3 L879.6 507.9 L879.8 493.6 L880.1 495.2 L880.4 500.0 L880.6 505.0 L880.9 509.2 L881.2 512.4 L881.5 514.0 L881.7 512.2 L882.0 516.5 L882.3 521.4 L882.5 514.2 L882.8 504.4 L883.1 498.5 L883.3 497.7 L883.6 501.7 L883.9 502.1 L884.2 501.7 L884.4 502.9 L884.7 505.3 L885.0 512.6 L885.2 513.0 L885.5 506.6 L885.8 505.8 L886.0 509.1 L886.3 510.8 L886.6 508.5 L886.9 506.1 L887.1 505.8 L887.4 505.4 L887.7 499.6 L887.9 494.4 L888.2 491.8 L888.5 491.3 L888.8 498.4 L889.0 512.8 L889.3 517.2 L889.6 505.6 L889.8 494.5 L890.1 488.4 L890.4 491.5 L890.6 504.3 L890.9 508.0 L891.2 503.6 L891.5 496.6 L891.7 488.5 L892.0 492.8 L892.3 504.0 L892.5 502.5 L892.8 493.1 L893.1 489.7 L893.3 490.7 L893.6 504.0 L893.9 522.5 L894.2 523.4 L894.4 510.2 L894.7 498.7 L895.0 492.8 L895.2 492.4 L895.5 498.6 L895.8 507.4 L896.0 509.3 L896.3 506.2 L896.6 505.3 L896.9 507.7 L897.1 511.3 L897.4 510.7 L897.7 513.7 L897.9 513.9 L898.2 501.6 L898.5 494.5 L898.7 500.0 L899.0 503.8 L899.3 494.3 L899.6 489.1 L899.8 509.7 L900.1 528.5 L900.4 525.1 L900.6 509.5 L900.9 500.3 L901.2 501.4 L901.4 506.2 L901.7 503.3 L902.0 497.9 L902.3 494.7 L902.5 491.9 L902.8 501.3 L903.1 507.3 L903.3 498.3 L903.6 496.4 L903.9 504.9 L904.1 515.3 L904.4 526.6 L904.7 518.4 L905.0 501.3 L905.2 506.3 L905.5 513.2 L905.8 497.7 L906.0 491.2 L906.3 516.8 L906.6 540.5 L906.9 530.5 L907.1 500.6 L907.4 477.3 L907.7 477.7 L907.9 501.1 L908.2 511.3 L908.5 508.7 L908.7 506.7 L909.0 510.3 L909.3 516.7 L909.6 520.9 L909.8 514.5 L910.1 504.1 L910.4 494.7 L910.6 489.5 L910.9 487.2 L911.2 480.7 L911.4 473.9 L911.7 475.6 L912.0 486.8 L912.3 498.6 L912.5 501.3 L912.8 500.6 L913.1 512.5 L913.3 531.8 L913.6 541.1 L913.9 536.7 L914.1 524.6 L914.4 507.5 L914.7 493.2 L915.0 484.8 L915.2 479.4 L915.5 477.9 L915.8 475.6 L916.0 475.8 L916.3 478.3 L916.6 527.0 L916.8 547.6 L917.1 591.6 L917.4 565.2 L917.7 549.7 L917.9 596.7 L918.2 586.7 L918.5 567.0 L918.7 550.3 L919.0 537.4 L919.3 511.3 L919.5 476.0 L919.8 456.5 L920.1 450.7 L920.4 458.2 L920.6 433.4 L920.9 400.6 L921.2 431.3 L921.4 457.9 L921.7 479.3 L922.0 527.1 L922.3 564.5 L922.5 585.6 L922.8 583.8 L923.1 566.4 L923.3 554.9 L923.6 544.4 L923.9 545.2 L924.1 529.0 L924.4 492.7 L924.7 447.8 L925.0 420.3 L925.2 431.4 L925.5 464.3 L925.8 486.3 L926.0 496.4 L926.3 507.2 L926.6 523.8 L926.8 539.0 L927.1 553.1 L927.4 567.1 L927.7 559.1 L927.9 529.0 L928.2 511.5 L928.5 506.5 L928.7 497.4 L929.0 473.5 L929.3 455.6 L929.5 520.7 L929.8 548.6 L930.1 629.6 L930.4 557.7 L930.6 534.5 L930.9 517.9 L931.2 543.9 L931.4 574.4 L931.7 588.8 L932.0 584.9 L932.2 573.7 L932.5 556.9 L932.8 526.9 L933.1 498.8 L933.3 476.3 L933.6 459.8 L933.9 446.9 L934.1 441.1 L934.4 441.8 L934.7 446.3 L934.9 455.1 L935.2 468.4 L935.5 500.8 L935.8 543.2 L936.0 570.4 L936.3 581.9 L936.6 491.4 L936.8 458.4 L937.1 378.6 L937.4 454.7 L937.6 480.0 L937.9 469.0 L938.2 422.7 L938.5 399.4 L938.7 399.6 L939.0 415.8 L939.3 447.3 L939.5 471.6 L939.8 481.8 L940.1 508.5 L940.4 553.1 L940.6 584.7 L940.9 601.5 L941.2 606.0 L941.4 579.9 L941.7 556.3 L942.0 532.5 L942.2 524.8 L942.5 513.3 L942.8 482.6 L943.1 450.3 L943.3 430.9 L943.6 418.0 L943.9 416.3 L944.1 440.8 L944.4 468.3 L944.7 491.1 L944.9 522.0 L945.2 545.6 L945.5 560.7 L945.8 577.4 L946.0 582.0 L946.3 561.2 L946.6 527.3 L946.8 501.3 L947.1 488.2 L947.4 477.4 L947.6 471.2 L947.9 467.7 L948.2 461.8 L948.5 456.2 L948.7 456.4 L949.0 470.0 L949.3 490.1 L949.5 502.0 L949.8 511.9 L950.1 525.9 L950.3 535.0 L950.6 533.0 L950.9 527.9 L951.2 521.8 L951.4 511.9 L951.7 497.8 L952.0 486.2 L952.2 483.7 L952.5 485.6 L952.8 484.4 L953.0 488.1 L953.3 498.0 L953.6 505.9 L953.9 511.7 L954.1 506.9 L954.4 494.8 L954.7 489.1 L954.9 495.8 L955.2 518.1 L955.5 535.6 L955.7 526.0 L956.0 503.9 L956.3 501.1 L956.6 507.7 L956.8 511.6 L957.1 524.6 L957.4 528.0 L957.6 497.8 L957.9 455.4 L958.2 459.0 L958.5 513.7 L958.7 550.1 L959.0 535.4 L959.3 510.2 L959.5 498.2 L959.8 497.3 L960.1 494.6 L960.3 480.8 L960.6 477.8 L960.9 495.8 L961.2 512.2 L961.4 511.4 L961.7 508.7 L962.0 518.4 L962.2 527.6 L962.5 503.8 L962.8 485.0 L963.0 448.6 L963.3 478.3 L963.6 495.9 L963.9 509.1 L964.1 528.9 L964.4 525.4 L964.7 511.0 L964.9 514.0 L965.2 524.6 L965.5 518.7 L965.7 503.8 L966.0 491.0 L966.3 485.6 L966.6 481.9 L966.8 482.7 L967.1 501.0 L967.4 521.1 L967.6 529.6 L967.9 532.0 L968.2 536.2 L968.4 537.6 L968.7 515.1 L969.0 481.6 L969.3 465.5 L969.5 463.7 L969.8 467.7 L970.1 494.2 L970.3 534.3 L970.6 562.6 L970.9 551.3 L971.1 500.4 L971.4 454.0 L971.7 463.1 L972.0 489.9 L972.2 482.2 L972.5 473.1 L972.8 484.1 L973.0 497.9 L973.3 517.1 L973.6 544.0 L973.9 548.1 L974.1 502.6 L974.4 450.1 L974.7 451.0 L974.9 496.2 L975.2 524.3 L975.5 511.5 L975.7 491.1 L976.0 495.2 L976.3 506.9 L976.6 505.9 L976.8 502.1 L977.1 506.9 L977.4 522.3 L977.6 528.4 L977.9 517.2 L978.2 512.6 L978.4 519.4 L978.7 517.9 L979.0 514.7 L979.3 519.6 L979.5 512.7 L979.8 493.6 L980.1 489.5 L980.3 501.7 L980.6 511.8 L980.9 517.1 L981.1 526.6 L981.4 519.7 L981.7 494.6 L982.0 487.8 L982.2 507.7 L982.5 522.5 L982.8 529.0 L983.0 529.1 L983.3 508.3 L983.6 494.4 L983.8 497.6 L984.1 490.8 L984.4 482.2 L984.7 481.3 L984.9 475.4 L985.2 480.0 L985.5 507.0 L985.7 524.6 L986.0 520.0 L986.3 511.0 L986.5 514.0 L986.8 517.6 L987.1 516.5 L987.4 506.0 L987.6 494.7 L987.9 494.8 L988.2 489.7 L988.4 485.7 L988.7 495.0 L989.0 506.4 L989.2 505.5 L989.5 511.6 L989.8 525.8 L990.1 524.6 L990.3 510.5 L990.6 488.2 L990.9 485.0 L991.1 531.8 L991.4 577.3 L991.7 577.2 L992.0 566.1 L992.2 537.4 L992.5 505.5 L992.8 467.5 L993.0 453.4 L993.3 482.3 L993.6 523.4 L993.8 536.3 L994.1 506.8 L994.4 479.8 L994.7 505.9 L994.9 534.4 L995.2 505.1 L995.5 475.7 L995.7 499.7 L996.0 531.2 L996.3 524.9 L996.5 505.1 L996.8 506.3 L997.1 519.4 L997.4 518.7 L997.6 509.2 L997.9 501.1 L998.2 488.9 L998.4 488.8 L998.7 506.1 L999.0 522.2 L999.2 518.2 L999.5 505.2 L999.8 493.7 L1000.1 489.5 L1000.3 518.0 L1000.6 534.2 L1000.9 506.1 L1001.1 471.8 L1001.4 467.6 L1001.7 488.1 L1001.9 505.9 L1002.2 523.9 L1002.5 553.5 L1002.8 555.6 L1003.0 511.1 L1003.3 483.5 L1003.6 496.1 L1003.8 510.4 L1004.1 507.1 L1004.4 498.7 L1004.6 490.4 L1004.9 501.6 L1005.2 532.5 L1005.5 542.8 L1005.7 531.6 L1006.0 497.7 L1006.3 475.3 L1006.5 496.7 L1006.8 508.7 L1007.1 495.0 L1007.3 493.3 L1007.6 521.6 L1007.9 531.1 L1008.2 508.6 L1008.4 494.3 L1008.7 487.7 L1009.0 489.4 L1009.2 507.7 L1009.5 516.2 L1009.8 510.0 L1010.1 507.7 L1010.3 501.1 L1010.6 475.7 L1010.9 463.2 L1011.1 479.1 L1011.4 503.3 L1011.7 519.9 L1011.9 511.3 L1012.2 504.6 L1012.5 511.3 L1012.8 524.0 L1013.0 539.5 L1013.3 539.7 L1013.6 509.4 L1013.8 472.4 L1014.1 471.9 L1014.4 503.7 L1014.6 532.3 L1014.9 541.2 L1015.2 519.1 L1015.5 480.4 L1015.7 474.5 L1016.0 502.2 L1016.3 526.5 L1016.5 517.8 L1016.8 485.9 L1017.1 481.9 L1017.3 498.9 L1017.6 506.0 L1017.9 512.5 L1018.2 518.6 L1018.4 526.2 L1018.7 519.9 L1019.0 500.6 L1019.2 489.9 L1019.5 495.6 L1019.8 497.5 L1020.0 481.2 L1020.3 477.6 L1020.6 495.7 L1020.9 515.7 L1021.1 533.4 L1021.4 545.9 L1021.7 547.3 L1021.9 527.0 L1022.2 493.2 L1022.5 487.4 L1022.7 469.1 L1023.0 446.6 L1023.3 478.3 L1023.6 497.9 L1023.8 517.0 L1024.1 524.0 L1024.4 532.2 L1024.6 530.5 L1024.9 537.7 L1025.2 536.1 L1025.5 519.7 L1025.7 496.5 L1026.0 472.6 L1026.3 461.8 L1026.5 455.7 L1026.8 472.0 L1027.1 498.3 L1027.3 494.2 L1027.6 486.3 L1027.9 503.5 L1028.2 522.8 L1028.4 530.6 L1028.7 531.0 L1029.0 526.6 L1029.2 509.6 L1029.5 486.6 L1029.8 483.6 L1030.0 501.3 L1030.3 511.8 L1030.6 530.5 L1030.9 548.5 L1031.1 570.6 L1031.4 547.0 L1031.7 532.0 L1031.9 524.0 L1032.2 514.4 L1032.5 504.6 L1032.7 503.8 L1033.0 487.6 L1033.3 478.4 L1033.6 487.9 L1033.8 497.5 L1034.1 520.2 L1034.4 522.0 L1034.6 487.5 L1034.9 473.6 L1035.2 501.5 L1035.4 524.3 L1035.7 510.3 L1036.0 494.8 L1036.3 498.7 L1036.5 516.4 L1036.8 526.1 L1037.1 500.5 L1037.3 463.8 L1037.6 467.4 L1037.9 502.6 L1038.1 520.7 L1038.4 510.0 L1038.7 501.2 L1039.0 516.3 L1039.2 538.2 L1039.5 537.7 L1039.8 517.6 L1040.0 494.9 L1040.3 488.1 L1040.6 494.0 L1040.8 500.3 L1041.1 501.8 L1041.4 496.1 L1041.7 494.8 L1041.9 486.5 L1042.2 486.7 L1042.5 514.8 L1042.7 539.8 L1043.0 533.6 L1043.3 501.8 L1043.6 482.9 L1043.8 485.3 L1044.1 504.7 L1044.4 524.4 L1044.6 517.9 L1044.9 503.5 L1045.2 492.2 L1045.4 477.3 L1045.7 480.3 L1046.0 511.0 L1046.3 536.8 L1046.5 537.0 L1046.8 523.7 L1047.1 519.7 L1047.3 525.0 L1047.6 529.5 L1047.9 531.3 L1048.1 519.8 L1048.4 501.7 L1048.7 480.4 L1049.0 472.0 L1049.2 500.4 L1049.5 517.4 L1049.8 504.9 L1050.0 510.8 L1050.3 534.7 L1050.6 533.2 L1050.8 506.9 L1051.1 465.4 L1051.4 444.2 L1051.7 462.5 L1051.9 494.9 L1052.2 531.9 L1052.5 545.5 L1052.7 507.1 L1053.0 477.7 L1053.3 489.4 L1053.5 513.4 L1053.8 520.5 L1054.1 502.5 L1054.4 482.6 L1054.6 484.1 L1054.9 509.9 L1055.2 541.3 L1055.4 535.6 L1055.7 514.0 L1056.0 517.2 L1056.2 527.7 L1056.5 512.4 L1056.8 498.3 L1057.1 514.5 L1057.3 531.1 L1057.6 525.9 L1057.9 503.1 L1058.1 483.0 L1058.4 488.8 L1058.7 498.0 L1059.0 488.6 L1059.2 485.5 L1059.5 477.6 L1059.8 465.5 L1060.0 479.4 L1060.3 505.5 L1060.6 516.2 L1060.8 518.8 L1061.1 517.4 L1061.4 503.9 L1061.7 491.8 L1061.9 500.7 L1062.2 503.5 L1062.5 493.9 L1062.7 517.4 L1063.0 540.0 L1063.3 534.7 L1063.5 528.6 L1063.8 518.7 L1064.1 476.1 L1064.4 455.3 L1064.6 495.2 L1064.9 547.7 L1065.2 552.8 L1065.4 546.4 L1065.7 524.5 L1066.0 489.6 L1066.2 471.1 L1066.5 465.9 L1066.8 468.5 L1067.1 493.9 L1067.3 506.6 L1067.6 482.6 L1067.9 459.6 L1068.1 454.4 L1068.4 463.2 L1068.7 475.6 L1068.9 522.5 L1069.2 575.8 L1069.5 580.7 L1069.8 555.9 L1070.0 523.9 L1070.3 524.6 L1070.6 500.1 L1070.8 472.4 L1071.1 480.7 L1071.4 507.5 L1071.6 527.6 L1071.9 522.2 L1072.2 498.3 L1072.5 476.0 L1072.7 471.0 L1073.0 485.9 L1073.3 496.8 L1073.5 488.9 L1073.8 488.8 L1074.1 508.1 L1074.3 510.5 L1074.6 493.3 L1074.9 489.8 L1075.2 513.6 L1075.4 537.2 L1075.7 520.3 L1076.0 492.3 L1076.2 504.6 L1076.5 542.1 L1076.8 537.2 L1077.1 496.6 L1077.3 463.0 L1077.6 453.4 L1077.9 480.8 L1078.1 522.0 L1078.4 532.6 L1078.7 533.7 L1078.9 516.9 L1079.2 496.6 L1079.5 521.6 L1079.8 553.6 L1080.0 554.1 L1080.3 525.8 L1080.6 481.3 L1080.8 450.0 L1081.1 445.6 L1081.4 471.0 L1081.6 491.7 L1081.9 496.1 L1082.2 512.0 L1082.5 520.8 L1082.7 505.3 L1083.0 482.1 L1083.3 476.0 L1083.5 490.0 L1083.8 503.8 L1084.1 524.1 L1084.3 546.1 L1084.6 546.8 L1084.9 524.1 L1085.2 500.3 L1085.4 489.0 L1085.7 487.9 L1086.0 492.6 L1086.2 494.8 L1086.5 497.6 L1086.8 510.9 L1087.0 517.4 L1087.3 511.7 L1087.6 507.1 L1087.9 498.8 L1088.1 488.5 L1088.4 480.0 L1088.7 478.0 L1088.9 486.8 L1089.2 500.0 L1089.5 504.6 L1089.7 493.8 L1090.0 489.8 L1090.3 510.2 L1090.6 538.4 L1090.8 534.9 L1091.1 529.1 L1091.4 540.7 L1091.6 525.8 L1091.9 500.9 L1092.2 508.0 L1092.4 524.6 L1092.7 514.5 L1093.0 506.6 L1093.3 506.1 L1093.5 490.9 L1093.8 489.1 L1094.1 502.4 L1094.3 502.8 L1094.6 481.8 L1094.9 455.6 L1095.2 447.8 L1095.4 476.6 L1095.7 511.5 L1096.0 507.7 L1096.2 491.0 L1096.5 491.1 L1096.8 491.2 L1097.0 502.8 L1097.3 540.2 L1097.6 561.4 L1097.9 535.9 L1098.1 509.1 L1098.4 503.7 L1098.7 497.8 L1098.9 486.3 L1099.2 496.2 L1099.5 517.7 L1099.7 525.5 L1100.0 530.4 L1100.3 543.8 L1100.6 519.2 L1100.8 454.3 L1101.1 426.6 L1101.4 429.9 L1101.6 460.7 L1101.9 522.2 L1102.2 556.4 L1102.4 509.5 L1102.7 477.8 L1103.0 533.7 L1103.3 570.5 L1103.5 480.1 L1103.8 447.6 L1104.1 406.6 L1104.3 454.8 L1104.6 475.9 L1104.9 475.0 L1105.1 466.7 L1105.4 475.1 L1105.7 506.0 L1106.0 572.1 L1106.2 574.2 L1106.5 532.7 L1106.8 532.1 L1107.0 578.6 L1107.3 532.8 L1107.6 513.1 L1107.8 466.8 L1108.1 502.0 L1108.4 534.3 L1108.7 552.3 L1108.9 551.4 L1109.2 527.8 L1109.5 515.1 L1109.7 518.4 L1110.0 496.6 L1110.3 466.9 L1110.6 469.9 L1110.8 506.8 L1111.1 545.1 L1111.4 562.6 L1111.6 540.5 L1111.9 492.7 L1112.2 474.1 L1112.4 489.4 L1112.7 493.7 L1113.0 498.0 L1113.3 504.9 L1113.5 523.1 L1113.8 557.9 L1114.1 553.1 L1114.3 507.2 L1114.6 461.7 L1114.9 444.9 L1115.1 460.2 L1115.4 486.2 L1115.7 491.2 L1116.0 486.9 L1116.2 494.7 L1116.5 508.0 L1116.8 519.9 L1117.0 524.9 L1117.3 512.3 L1117.6 499.1 L1117.8 514.0 L1118.1 528.3 L1118.4 518.5 L1118.7 503.9 L1118.9 491.5 L1119.2 486.2 L1119.5 497.6 L1119.7 512.1 L1120.0 517.8 L1120.3 516.7 L1120.5 509.4 L1120.8 492.0 L1121.1 481.2 L1121.4 496.6 L1121.6 509.8 L1121.9 504.4 L1122.2 501.8 L1122.4 507.8 L1122.7 511.7 L1123.0 511.5 L1123.2 504.8 L1123.5 494.5 L1123.8 491.0 L1124.1 503.7 L1124.3 527.7 L1124.6 541.4 L1124.9 533.4 L1125.1 513.2 L1125.4 508.4 L1125.7 509.6 L1125.9 483.3 L1126.2 458.2 L1126.5 483.9 L1126.8 526.3 L1127.0 532.1 L1127.3 517.8 L1127.6 508.1 L1127.8 494.9 L1128.1 487.6 L1128.4 501.4 L1128.7 511.6 L1128.9 500.2 L1129.2 490.2 L1129.5 494.5 L1129.7 510.6 L1130.0 525.1 L1130.3 522.5 L1130.5 516.7 L1130.8 528.9 L1131.1 526.5 L1131.4 496.1 L1131.6 489.2 L1131.9 496.5 L1132.2 506.0 L1132.4 512.0 L1132.7 487.3 L1133.0 471.6 L1133.2 472.2 L1133.5 474.9 L1133.8 473.3 L1134.1 481.9 L1134.3 516.3 L1134.6 546.3 L1134.9 543.4 L1135.1 500.9 L1135.4 475.4 L1135.7 482.2 L1135.9 487.4 L1136.2 484.1 L1136.5 481.6 L1136.8 493.2 L1137.0 510.5 L1137.3 510.0 L1137.6 506.5 L1137.8 515.1 L1138.1 529.0 L1138.4 539.6 L1138.6 536.3 L1138.9 498.4 L1139.2 452.8 L1139.5 452.5 L1139.7 455.7 L1140.0 493.2 L1140.3 541.0 L1140.5 549.2 L1140.8 548.1 L1141.1 491.1 L1141.3 458.8 L1141.6 473.5 L1141.9 498.4 L1142.2 510.5 L1142.4 519.5 L1142.7 520.9 L1143.0 511.6 L1143.2 509.8 L1143.5 520.8 L1143.8 529.1 L1144.1 518.0 L1144.3 484.8 L1144.6 456.2 L1144.9 449.7 L1145.1 463.4 L1145.4 502.2 L1145.7 524.8 L1145.9 526.2 L1146.2 508.7 L1146.5 480.7 L1146.8 460.5 L1147.0 468.6 L1147.3 503.3 L1147.6 522.7 L1147.8 514.2 L1148.1 503.4 L1148.4 494.1 L1148.6 478.5 L1148.9 480.8 L1149.2 498.2 L1149.5 500.1 L1149.7 503.7 L1150.0 517.1 L1150.3 519.2 L1150.5 518.8 L1150.8 514.5 L1151.1 498.9 L1151.3 498.1 L1151.6 506.4 L1151.9 498.4 L1152.2 482.8 L1152.4 475.4 L1152.7 481.2 L1153.0 502.8 L1153.2 524.0 L1153.5 527.1 L1153.8 528.2 L1154.0 516.5 L1154.3 483.2 L1154.6 488.8 L1154.9 522.0 L1155.1 526.3 L1155.4 502.1 L1155.7 489.2 L1155.9 498.5 L1156.2 511.2 L1156.5 516.5 L1156.7 529.5 L1157.0 550.6 L1157.3 526.9 L1157.6 512.5 L1157.8 500.5 L1158.1 498.6 L1158.4 486.2 L1158.6 467.6 L1158.9 440.6 L1159.2 471.0 L1159.4 490.2 L1159.7 510.6 L1160.0 499.9 L1160.3 485.9 L1160.5 488.1 L1160.8 507.2 L1161.1 526.0 L1161.3 521.1 L1161.6 491.2 L1161.9 471.0 L1162.2 486.0 L1162.4 509.0 L1162.7 509.4 L1163.0 503.3 L1163.2 502.1 L1163.5 499.5 L1163.8 506.3 L1164.0 518.4 L1164.3 513.4 L1164.6 496.4 L1164.9 498.8 L1165.1 515.8 L1165.4 515.6 L1165.7 498.9 L1165.9 491.1 L1166.2 490.4 L1166.5 491.6 L1166.7 507.4 L1167.0 514.8 L1167.3 502.6 L1167.6 495.7 L1167.8 499.5 L1168.1 514.7 L1168.4 535.2 L1168.6 534.7 L1168.9 507.8 L1169.2 487.0 L1169.4 484.5 L1169.7 482.0 L1170.0 491.8 L1170.3 501.9 L1170.5 494.9 L1170.8 494.8 L1171.1 511.1 L1171.3 517.2 L1171.6 506.0 L1171.9 497.2 L1172.1 498.8 L1172.4 505.1 L1172.7 506.1 L1173.0 508.5 L1173.2 509.4 L1173.5 498.6 L1173.8 492.2 L1174.0 503.6 L1174.3 516.4 L1174.6 523.6 L1174.8 524.3 L1175.1 502.5 L1175.4 470.6 L1175.7 458.8 L1175.9 467.7 L1176.2 490.0 L1176.5 507.7 L1176.7 520.1 L1177.0 516.4 L1177.3 499.0 L1177.5 499.0 L1177.8 513.4 L1178.1 513.8 L1178.4 502.7 L1178.6 506.1 L1178.9 512.8 L1179.2 501.7 L1179.4 492.1 L1179.7 501.7 L1180.0 516.3 L1180.3 525.1 L1180.5 517.5 L1180.8 490.4 L1181.1 475.1 L1181.3 491.4 L1181.6 507.5 L1181.9 508.3 L1182.1 504.1 L1182.4 497.7 L1182.7 503.5 L1183.0 522.4 L1183.2 527.7 L1183.5 510.9 L1183.8 490.6 L1184.0 483.4 L1184.3 492.8 L1184.6 508.4 L1184.8 510.9 L1185.1 506.2 L1185.4 500.5 L1185.7 501.2 L1185.9 508.5 L1186.2 512.2 L1186.5 510.3 L1186.7 506.7 L1187.0 506.7 L1187.3 505.0 L1187.5 500.6 L1187.8 495.4 L1188.1 490.8 L1188.4 489.8 L1188.6 489.1 L1188.9 495.9 L1189.2 507.8 L1189.4 513.3 L1189.7 513.7 L1190.0 507.8 L1190.2 493.7 L1190.5 481.2 L1190.8 478.7 L1191.1 480.5 L1191.3 496.7 L1191.6 521.2 L1191.9 529.2 L1192.1 521.7 L1192.4 512.8 L1192.7 496.1 L1192.9 483.4 L1193.2 489.0 L1193.5 500.7 L1193.8 505.2 L1194.0 505.6 L1194.3 509.2 L1194.6 510.1 L1194.8 500.3 L1195.1 490.5 L1195.4 494.1 L1195.7 504.7 L1195.9 517.1 L1196.2 525.3 L1196.5 521.9 L1196.7 505.7 L1197.0 490.4 L1197.3 491.1 L1197.5 496.7 L1197.8 496.9 L1198.1 495.9 L1198.4 492.9 L1198.6 494.9 L1198.9 513.6 L1199.2 535.2 L1199.4 530.9 L1199.7 508.3 L1200.0 490.1 L1200.2 486.7 L1200.5 501.3 L1200.8 507.8 L1201.1 495.6 L1201.3 482.7 L1201.6 479.6 L1201.9 489.9 L1202.1 501.1 L1202.4 506.7 L1202.7 514.2 L1202.9 517.2 L1203.2 511.2 L1203.5 499.8 L1203.8 492.0 L1204.0 493.0 L1204.3 494.9 L1204.6 497.3 L1204.8 506.7 L1205.1 516.9 L1205.4 513.7 L1205.6 507.5 L1205.9 504.3 L1206.2 498.1 L1206.5 491.7 L1206.7 487.5 L1207.0 488.0 L1207.3 495.4 L1207.5 506.8 L1207.8 514.7 L1208.1 514.4 L1208.3 509.8 L1208.6 502.4 L1208.9 487.8 L1209.2 479.6 L1209.4 491.8 L1209.7 501.0 L1210.0 503.8 L1210.2 499.4 L1210.5 491.5 L1210.8 499.6 L1211.0 508.2 L1211.3 505.8 L1211.6 514.4 L1211.9 525.6 L1212.1 522.7 L1212.4 519.6 L1212.7 512.4 L1212.9 498.6 L1213.2 489.9 L1213.5 477.9 L1213.8 467.7 L1214.0 474.8 L1214.3 493.1 L1214.6 501.6 L1214.8 520.5 L1215.1 532.2 L1215.4 532.5 L1215.6 517.7 L1215.9 478.3 L1216.2 485.8 L1216.5 512.3 L1216.7 516.2 L1217.0 503.6 L1217.3 489.0 L1217.5 476.1 L1217.8 473.4 L1218.1 481.3 L1218.3 495.9 L1218.6 505.5 L1218.9 510.5 L1219.2 516.4 L1219.4 520.4 L1219.7 518.1 L1220.0 512.8 L1220.2 504.5 L1220.5 495.5 L1220.8 491.7 L1221.0 490.8 L1221.3 491.3 L1221.6 494.0 L1221.9 500.1 L1222.1 506.6 L1222.4 510.1 L1222.7 513.3 L1222.9 510.1 L1223.2 497.2 L1223.5 492.3 L1223.7 497.8 L1224.0 496.9 L1224.3 501.3 L1224.6 511.6 L1224.8 510.1 L1225.1 503.2 L1225.4 506.6 L1225.6 521.0 L1225.9 528.1 L1226.2 511.9 L1226.4 486.8 L1226.7 474.2 L1227.0 476.3 L1227.3 495.0 L1227.5 518.8 L1227.8 519.0 L1228.1 500.8 L1228.3 489.1 L1228.6 491.4 L1228.9 491.9 L1229.1 486.9 L1229.4 495.8 L1229.7 510.4 L1230.0 496.2 L1230.2 478.6 L1230.5 492.8 L1230.8 511.0 L1231.0 515.4 L1231.3 515.2 L1231.6 509.2 L1231.9 496.9 L1232.1 488.4 L1232.4 489.3 L1232.7 492.2 L1232.9 495.5 L1233.2 503.1 L1233.5 508.8 L1233.7 506.4 L1234.0 501.9 L1234.3 503.4 L1234.6 507.9 L1234.8 513.8 L1235.1 520.0 L1235.4 517.6 L1235.6 507.7 L1235.9 497.4 L1236.2 482.5 L1236.4 470.6 L1236.7 479.2 L1237.0 502.7 L1237.3 520.8 L1237.5 520.0 L1237.8 509.7 L1238.1 505.8 L1238.3 507.3 L1238.6 509.9 L1238.9 505.5 L1239.1 496.9 L1239.4 495.7 L1239.7 504.7 L1240.0 509.2 L1240.2 503.4 L1240.5 493.3 L1240.8 490.5 L1241.0 501.6 L1241.3 510.4 L1241.6 508.3 L1241.8 502.2 L1242.1 500.1 L1242.4 501.7 L1242.7 497.4 L1242.9 484.2 L1243.2 482.7 L1243.5 497.3 L1243.7 507.6 L1244.0 507.2 L1244.3 510.2 L1244.5 519.2 L1244.8 520.9 L1245.1 513.9 L1245.4 496.8 L1245.6 483.1 L1245.9 492.0 L1246.2 503.9 L1246.4 497.1 L1246.7 493.7 L1247.0 498.3 L1247.3 492.6 L1247.5 488.6 L1247.8 498.1 L1248.1 505.3 L1248.3 503.7 L1248.6 503.3 L1248.9 504.8 L1249.1 498.0 L1249.4 494.8 L1249.7 500.7 L1250.0 511.3 L1250.2 513.2 L1250.5 505.6 L1250.8 502.4 L1251.0 504.9 L1251.3 503.4 L1251.6 499.2 L1251.8 496.7 L1252.1 498.6 L1252.4 499.9 L1252.7 496.6 L1252.9 493.9 L1253.2 497.0 L1253.5 493.2 L1253.7 483.3 L1254.0 483.5 L1254.3 491.3 L1254.5 500.6 L1254.8 510.7 L1255.1 516.7 L1255.4 511.7 L1255.6 512.7 L1255.9 519.4 L1256.2 508.1 L1256.4 486.6 L1256.7 485.2 L1257.0 489.7 L1257.2 485.1 L1257.5 490.9 L1257.8 499.0 L1258.1 505.8 L1258.3 519.2 L1258.6 523.4 L1258.9 506.6 L1259.1 487.3 L1259.4 489.2 L1259.7 498.0 L1259.9 494.5 L1260.2 490.5 L1260.5 490.9 L1260.8 492.9 L1261.0 498.7 L1261.3 507.1 L1261.6 511.1 L1261.8 507.7 L1262.1 501.1 L1262.4 497.2 L1262.6 495.1 L1262.9 492.5 L1263.2 497.1 L1263.5 498.9 L1263.7 492.4 L1264.0 493.5 L1264.3 506.8 L1264.5 522.0 L1264.8 529.5 L1265.1 521.0 L1265.4 498.2 L1265.6 480.4 L1265.9 480.1 L1266.2 492.0 L1266.4 500.3 L1266.7 499.9 L1267.0 500.9 L1267.2 502.4 L1267.5 495.0 L1267.8 497.8 L1268.1 523.7 L1268.3 533.1 L1268.6 523.8 L1268.9 497.1 L1269.1 486.1 L1269.4 492.1 L1269.7 497.3 L1269.9 501.8 L1270.2 508.4 L1270.5 513.9 L1270.8 511.2 L1271.0 498.0 L1271.3 482.9 L1271.6 488.8 L1271.8 510.2 L1272.1 513.7 L1272.4 502.3 L1272.6 489.2 L1272.9 482.3 L1273.2 485.9 L1273.5 502.2 L1273.7 522.1 L1274.0 518.2 L1274.3 493.0 L1274.5 484.7 L1274.8 490.4 L1275.1 490.6 L1275.3 500.2 L1275.6 510.9 L1275.9 505.6 L1276.2 496.8 L1276.4 494.1 L1276.7 501.2 L1277.0 510.7 L1277.2 511.8 L1277.5 503.7 L1277.8 499.8 L1278.0 506.9 L1278.3 504.5 L1278.6 484.8 L1278.9 475.1 L1279.1 488.1 L1279.4 510.5 L1279.7 526.4 L1279.9 523.0 L1280.2 502.0 L1280.5 494.5 L1280.8 488.3 L1281.0 471.6 L1281.3 490.6 L1281.6 497.4 L1281.8 483.7 L1282.1 473.7 L1282.4 484.5 L1282.6 484.7 L1282.9 484.8 L1283.2 502.1 L1283.5 517.9 L1283.7 513.7 L1284.0 500.0 L1284.3 500.9 L1284.5 506.2 L1284.8 508.5 L1285.1 513.7 L1285.3 511.9 L1285.6 497.5 L1285.9 486.0 L1286.2 489.6 L1286.4 502.2 L1286.7 513.6 L1287.0 509.4 L1287.2 496.9 L1287.5 498.6 L1287.8 503.9 L1288.0 500.8 L1288.3 500.7 L1288.6 506.4 L1288.9 507.3 L1289.1 503.7 L1289.4 500.2 L1289.7 494.8 L1289.9 492.5 L1290.2 497.3 L1290.5 504.2 L1290.7 509.1 L1291.0 511.4 L1291.3 510.5 L1291.6 508.2 L1291.8 503.4 L1292.1 492.9 L1292.4 490.0 L1292.6 500.3 L1292.9 505.1 L1293.2 503.0 L1293.4 505.2 L1293.7 510.3 L1294.0 509.2 L1294.3 502.7 L1294.5 500.8 L1294.8 505.4 L1295.1 508.4 L1295.3 504.8 L1295.6 501.3 L1295.9 499.4 L1296.1 493.7 L1296.4 494.2 L1296.7 505.2 L1297.0 512.5 L1297.2 518.0 L1297.5 518.4" stroke="#000" stroke-width="1.15" fill="none"/>
<path d="M325.2 515.5 L325.4 515.5 L326.9 515.4 L329.0 515.3 L331.3 515.1 L333.3 514.8 L334.6 514.4 L335.8 513.9 L336.9 513.5 L338.1 513.4 L339.5 513.7 L340.9 514.5 L342.5 515.2 L344.1 515.8 L345.9 516.2 L347.8 516.5 L349.7 516.6 L351.3 516.4 L352.7 515.7 L353.8 514.7 L354.9 513.6 L356.1 512.8 L357.6 512.0 L359.3 511.3 L360.8 510.9 L362.2 511.0 L363.1 512.0 L363.7 513.8 L364.3 515.5 L365.2 516.4 L366.4 516.1 L367.8 515.0 L369.2 513.8 L370.6 512.8 L371.9 512.0 L373.1 511.4 L374.3 510.9 L375.4 511.0 L376.4 511.8 L377.2 513.3 L378.0 514.7 L379.0 515.5 L380.3 515.5 L381.8 514.8 L383.4 514.0 L385.1 513.4 L386.9 512.9 L388.9 512.4 L390.8 512.1 L392.3 512.2 L393.1 513.0 L393.3 514.3 L393.7 515.5 L394.7 515.8 L396.7 514.7 L399.2 512.7 L401.9 510.6 L404.3 509.2 L406.4 508.5 L408.3 508.3 L410.0 508.5 L411.6 509.2 L413.0 510.6 L414.2 512.8 L415.3 514.8 L416.4 515.8 L417.3 515.3 L418.1 514.0 L419.0 512.3 L420.0 511.0 L421.3 510.1 L422.9 509.2 L424.5 508.6 L426.0 508.3 L427.6 508.5 L429.2 509.0 L430.7 509.5 L432.0 509.8 L433.1 509.4 L433.9 508.6 L434.6 508.0 L435.7 508.0 L437.0 508.9 L438.4 510.4 L440.0 512.0 L441.7 512.8 L443.5 512.4 L445.4 511.4 L447.2 510.3 L448.9 509.8 L450.3 510.2 L451.4 511.3 L452.5 512.3 L453.7 512.8 L455.2 512.3 L456.7 511.4 L458.3 510.4 L459.8 509.8 L460.9 509.9 L461.9 510.5 L463.1 511.0 L464.6 511.0 L466.7 510.0 L469.2 508.5 L471.9 507.0 L474.2 506.1 L476.2 506.3 L478.0 507.0 L479.7 508.0 L481.4 508.6 L483.3 508.7 L485.1 508.6 L487.0 508.4 L488.7 508.6 L490.3 509.1 L491.8 509.9 L493.2 510.7 L494.7 511.0 L496.2 510.6 L497.6 509.8 L499.1 508.8 L500.7 508.0 L502.5 507.0 L504.5 506.0 L506.4 505.2 L508.0 504.9 L509.1 505.6 L510.0 507.0 L510.8 508.4 L511.6 509.2 L512.3 509.1 L513.0 508.6 L513.8 507.9 L514.8 507.3 L516.2 507.1 L517.7 506.8 L519.4 506.7 L520.8 506.7 L522.1 507.0 L523.3 507.5 L524.4 508.0 L525.7 508.6 L527.1 509.2 L528.7 510.0 L530.2 510.7 L531.7 511.0 L532.9 510.6 L534.0 509.9 L535.2 509.1 L536.5 508.6 L538.2 508.5 L540.2 508.6 L542.1 508.8 L543.7 508.6 L544.9 507.7 L545.7 506.4 L546.5 505.3 L547.3 504.9 L548.3 505.9 L549.3 507.9 L550.4 509.7 L551.6 510.4 L553.0 509.2 L554.6 507.0 L556.2 504.7 L557.6 503.5 L558.7 504.0 L559.7 505.6 L560.7 507.3 L561.8 508.6 L563.2 509.0 L564.8 509.2 L566.4 509.1 L567.8 508.8 L569.0 508.1 L570.1 507.0 L571.0 506.1 L572.0 505.9 L573.1 506.9 L574.0 508.8 L575.1 510.6 L576.3 511.6 L577.6 511.2 L579.1 510.1 L580.7 508.8 L582.3 508.3 L584.0 509.0 L585.8 510.5 L587.6 511.8 L589.5 512.2 L591.7 510.9 L594.0 508.7 L596.2 506.5 L598.0 505.5 L599.1 506.7 L599.9 509.1 L600.6 511.4 L601.6 512.2 L602.9 510.2 L604.4 506.6 L606.0 503.1 L607.6 501.6 L609.1 503.0 L610.5 506.4 L612.0 509.9 L613.6 512.2 L615.4 512.3 L617.3 511.3 L619.2 510.2 L620.8 509.8 L622.1 510.7 L623.0 512.5 L623.9 514.1 L625.1 514.6 L626.6 513.4 L628.3 511.2 L630.0 508.8 L631.7 507.3 L633.3 507.2 L634.8 507.8 L636.3 508.4 L637.7 508.6 L639.0 507.6 L640.3 506.1 L641.4 504.8 L642.5 504.3 L643.5 505.3 L644.4 507.2 L645.3 509.2 L646.1 510.4 L647.0 510.2 L647.9 509.3 L648.8 508.3 L649.8 508.0 L650.9 508.6 L652.0 509.7 L653.3 510.9 L654.6 511.6 L656.0 511.5 L657.4 511.1 L659.0 510.5 L660.6 509.8 L662.3 508.8 L664.1 507.7 L666.0 506.7 L667.8 506.1 L669.7 506.2 L671.6 506.7 L673.4 507.5 L675.1 508.6 L676.5 510.3 L677.7 512.5 L678.8 514.4 L679.9 515.2 L680.8 514.1 L681.5 511.8 L682.4 509.3 L683.5 507.3 L685.2 506.4 L687.2 505.9 L689.2 505.5 L690.7 504.9 L691.6 503.9 L692.2 502.5 L692.6 501.5 L693.1 501.6 L694.0 503.3 L694.9 506.3 L695.8 509.2 L696.7 511.0 L697.6 511.0 L698.4 510.0 L699.3 508.6 L700.0 507.7 L700.6 507.4 L701.2 507.4 L701.8 507.4 L702.4 507.1 L703.2 506.3 L704.1 505.2 L705.0 504.1 L705.7 503.5 L706.3 503.5 L706.8 503.8 L707.2 504.4 L707.8 505.3 L708.7 506.7 L709.6 508.7 L710.6 510.4 L711.4 511.3 L712.1 511.0 L712.7 509.9 L713.2 508.6 L713.9 507.7 L714.6 507.4 L715.3 507.4 L716.1 507.4 L716.9 507.1 L717.7 506.2 L718.5 504.8 L719.4 503.6 L720.2 502.9 L720.9 503.1 L721.4 503.9 L722.1 504.8 L722.9 505.3 L724.0 505.3 L725.2 505.0 L726.5 504.8 L727.7 504.7 L728.8 505.1 L729.9 505.7 L731.0 506.3 L731.9 506.5 L732.8 506.3 L733.5 505.7 L734.2 505.1 L734.9 504.7 L735.8 504.7 L736.7 505.0 L737.6 505.3 L738.6 505.3 L739.4 504.9 L740.3 504.2 L741.2 503.5 L742.2 503.2 L743.3 503.3 L744.6 503.6 L745.8 504.0 L747.0 504.7 L747.9 505.8 L748.8 507.3 L749.6 508.5 L750.6 508.9 L751.8 507.9 L753.0 505.9 L754.3 503.9 L755.4 502.9 L756.3 503.4 L757.1 504.8 L757.8 506.4 L758.4 507.1 L759.1 506.6 L759.6 505.3 L760.2 504.1 L760.8 503.5 L761.4 504.0 L762.0 505.2 L762.7 506.4 L763.9 507.1 L765.7 507.0 L768.0 506.5 L770.4 505.9 L772.3 505.3 L773.6 504.7 L774.5 504.0 L775.2 503.5 L775.9 503.5 L776.6 504.4 L777.1 506.1 L777.7 507.6 L778.3 508.3 L779.1 507.8 L780.0 506.5 L781.0 505.1 L781.9 504.1 L782.9 503.7 L783.8 503.5 L784.8 503.6 L785.5 504.1 L786.1 505.4 L786.5 507.3 L786.9 509.0 L787.3 509.5 L788.0 508.2 L788.8 505.5 L789.6 502.9 L790.4 501.7 L791.0 502.7 L791.5 505.2 L792.1 507.5 L792.8 508.3 L793.6 506.6 L794.5 503.2 L795.5 499.9 L796.4 498.1 L797.3 498.8 L798.3 501.0 L799.2 503.2 L800.0 504.1 L800.7 502.4 L801.2 499.3 L801.8 496.4 L802.4 495.7 L803.3 498.4 L804.2 503.4 L805.2 508.5 L806.0 511.3 L806.7 510.9 L807.3 508.5 L807.9 505.7 L808.4 504.1 L808.9 504.4 L809.3 505.7 L809.7 507.1 L810.2 507.7 L810.9 507.2 L811.6 506.2 L812.4 505.0 L813.3 504.1 L814.3 503.7 L815.4 503.5 L816.5 503.4 L817.5 503.5 L818.3 503.7 L819.1 504.1 L819.8 504.7 L820.5 505.3 L821.1 506.2 L821.5 507.4 L822.1 508.4 L822.9 508.9 L824.0 508.7 L825.3 507.9 L826.7 507.1 L828.3 506.5 L830.1 506.4 L832.2 506.4 L834.3 506.5 L836.1 506.5 L837.8 506.3 L839.3 506.1 L840.7 505.8 L842.2 505.3 L843.6 504.3 L845.1 503.0 L846.4 502.0 L847.6 501.7 L848.5 502.7 L849.2 504.6 L849.9 506.6 L850.6 507.7 L851.4 507.7 L852.1 507.0 L853.0 506.0 L854.2 505.3 L856.1 504.7 L858.4 504.2 L860.8 503.9 L862.7 504.1 L863.9 505.4 L864.8 507.5 L865.5 509.4 L866.3 510.1 L867.2 508.9 L868.1 506.4 L869.1 503.8 L869.9 502.3 L870.5 502.4 L871.1 503.5 L871.6 504.7 L872.3 505.3 L873.1 504.8 L873.9 503.8 L874.8 502.9 L875.9 502.9 L877.2 504.4 L878.7 507.0 L880.1 509.5 L881.3 510.7 L882.2 510.2 L883.0 508.5 L883.6 506.6 L884.3 505.3 L885.1 505.0 L885.9 505.1 L886.6 505.2 L887.3 504.7 L888.1 503.1 L888.8 500.9 L889.4 498.6 L890.0 497.1 L890.5 496.4 L890.9 496.3 L891.2 496.5 L891.6 496.9 L891.8 497.2 L892.0 497.8 L892.2 498.5 L892.6 499.7 L893.4 501.8 L894.5 504.4 L895.6 506.9 L896.6 508.1 L897.6 507.4 L898.6 505.4 L899.5 503.3 L900.6 502.4 L901.8 503.2 L903.1 505.0 L904.3 506.9 L905.4 508.1 L906.3 508.5 L907.0 508.4 L907.7 507.9 L908.5 506.8 L909.5 504.6 L910.6 501.5 L911.6 498.6 L912.5 497.1 L913.2 496.9 L913.6 497.7 L914.1 499.4 L914.7 502.4 L915.5 508.5 L916.4 517.0 L917.4 523.9 L918.2 525.3 L919.0 516.6 L919.8 501.1 L920.5 486.4 L921.3 480.3 L922.2 488.6 L923.1 506.1 L924.0 523.2 L924.9 530.6 L925.7 521.9 L926.5 503.4 L927.2 484.8 L928.0 475.9 L928.7 482.6 L929.3 498.7 L930.0 515.3 L930.6 523.5 L931.2 518.3 L931.7 505.1 L932.3 491.7 L932.8 485.6 L933.3 491.6 L933.9 504.6 L934.4 517.9 L935.0 524.4 L935.6 520.2 L936.3 509.6 L937.0 498.5 L937.7 492.7 L938.4 495.3 L939.1 502.8 L939.9 510.7 L940.8 514.7 L941.8 512.6 L943.0 506.9 L944.2 500.8 L945.2 497.1 L945.9 497.0 L946.4 499.0 L946.8 501.3 L947.4 502.4 L948.0 501.3 L948.7 499.1 L949.3 496.9 L950.0 496.2 L950.7 497.6 L951.3 500.4 L952.0 503.3 L952.7 505.0 L953.4 504.8 L954.2 503.4 L955.0 501.9 L955.8 501.5 L956.4 502.7 L956.9 504.8 L957.4 507.0 L958.0 508.1 L958.6 507.6 L959.3 506.0 L959.9 504.5 L960.6 504.1 L961.2 505.6 L961.8 508.1 L962.5 510.6 L963.3 512.1 L964.2 512.1 L965.3 511.4 L966.5 510.0 L967.7 508.1 L968.8 504.7 L970.0 500.0 L971.2 496.1 L972.5 494.9 L974.1 498.3 L975.8 504.9 L977.5 511.4 L979.1 514.7 L980.5 512.7 L981.8 507.4 L983.0 502.1 L984.4 499.7 L986.0 502.4 L987.8 508.0 L989.6 513.7 L991.5 516.5 L993.6 514.7 L995.9 510.3 L998.1 505.6 L1000.0 503.2 L1001.4 504.8 L1002.5 508.7 L1003.4 512.5 L1004.4 513.8 L1005.5 511.2 L1006.5 506.0 L1007.5 500.8 L1008.4 498.0 L1009.2 498.6 L1010.0 501.3 L1010.7 504.6 L1011.5 506.8 L1012.3 507.7 L1013.2 508.2 L1014.1 508.2 L1015.0 507.7 L1015.9 506.2 L1016.8 503.8 L1017.7 501.8 L1018.5 501.0 L1019.2 502.6 L1019.9 505.6 L1020.5 508.6 L1021.2 510.3 L1022.0 510.0 L1022.9 508.6 L1023.8 506.7 L1024.7 505.0 L1025.5 502.8 L1026.3 500.2 L1027.0 498.4 L1027.8 498.8 L1028.5 503.7 L1029.2 511.7 L1030.0 519.0 L1030.9 521.8 L1032.0 516.9 L1033.3 507.1 L1034.6 497.4 L1035.7 492.7 L1036.8 496.2 L1037.8 504.7 L1038.8 513.4 L1039.7 517.4 L1040.6 513.5 L1041.5 505.0 L1042.3 496.6 L1043.2 493.1 L1044.3 497.9 L1045.4 507.8 L1046.6 517.5 L1047.7 521.8 L1048.7 517.1 L1049.7 506.9 L1050.7 496.7 L1051.6 491.8 L1052.6 495.7 L1053.6 505.0 L1054.6 514.3 L1055.6 518.3 L1056.7 513.1 L1057.8 502.5 L1059.0 492.2 L1060.0 488.2 L1061.0 495.1 L1061.8 508.7 L1062.7 521.7 L1063.5 527.1 L1064.4 519.4 L1065.3 503.6 L1066.2 488.1 L1067.1 481.2 L1068.0 488.5 L1068.9 504.4 L1069.8 520.4 L1070.6 528.0 L1071.4 521.8 L1072.1 507.6 L1072.9 492.9 L1073.7 485.6 L1074.6 490.3 L1075.6 502.0 L1076.6 514.1 L1077.7 520.0 L1078.8 515.9 L1080.0 506.0 L1081.1 495.8 L1082.1 490.9 L1082.8 494.9 L1083.5 504.1 L1084.0 513.3 L1084.7 517.4 L1085.6 512.7 L1086.4 502.9 L1087.4 493.2 L1088.3 489.1 L1089.2 494.6 L1090.1 505.9 L1090.9 517.0 L1091.8 521.8 L1092.6 516.2 L1093.4 504.2 L1094.1 492.2 L1094.9 486.5 L1095.6 491.0 L1096.2 501.6 L1096.9 512.6 L1097.5 518.3 L1098.2 515.5 L1098.8 507.8 L1099.5 499.7 L1100.2 495.3 L1101.0 497.2 L1101.8 502.6 L1102.6 508.1 L1103.3 510.3 L1103.7 506.8 L1103.9 499.9 L1104.1 493.3 L1104.6 490.9 L1105.4 495.3 L1106.3 503.9 L1107.3 512.6 L1108.1 517.4 L1108.7 516.0 L1109.2 511.0 L1109.6 505.4 L1110.0 502.3 L1110.5 502.9 L1111.1 505.4 L1111.6 508.5 L1112.1 510.5 L1112.3 511.3 L1112.5 511.6 L1112.7 511.3 L1113.0 510.3 L1113.4 507.9 L1113.9 504.4 L1114.5 501.2 L1115.1 499.5 L1115.9 500.4 L1116.7 503.0 L1117.5 505.8 L1118.2 507.1 L1118.9 505.9 L1119.5 503.4 L1120.1 500.9 L1120.6 500.2 L1121.2 502.2 L1121.8 506.0 L1122.4 509.8 L1123.0 511.9 L1123.7 511.4 L1124.4 509.3 L1125.1 507.0 L1125.8 505.7 L1126.4 506.0 L1127.0 507.1 L1127.6 508.2 L1128.2 508.4 L1128.8 507.3 L1129.3 505.4 L1129.9 503.3 L1130.6 501.6 L1131.5 500.1 L1132.4 498.7 L1133.4 497.6 L1134.4 497.5 L1135.2 498.6 L1135.9 500.8 L1136.7 503.0 L1137.5 504.3 L1138.3 504.2 L1139.2 503.2 L1140.1 502.0 L1140.9 501.6 L1141.6 502.4 L1142.3 503.9 L1143.0 505.2 L1143.6 505.0 L1144.3 502.4 L1145.0 498.1 L1145.7 494.0 L1146.4 492.0 L1147.0 492.9 L1147.7 495.6 L1148.4 498.9 L1149.1 501.6 L1149.9 503.5 L1150.8 505.2 L1151.7 506.5 L1152.6 507.1 L1153.3 506.6 L1154.0 505.3 L1154.6 503.8 L1155.3 502.9 L1156.0 503.1 L1156.7 503.8 L1157.4 504.5 L1158.0 504.3 L1158.6 502.7 L1159.1 500.2 L1159.6 497.9 L1160.1 496.8 L1160.8 497.5 L1161.5 499.3 L1162.2 501.5 L1162.8 502.9 L1163.4 503.4 L1163.9 503.5 L1164.4 503.4 L1164.9 503.6 L1165.5 504.5 L1166.2 505.7 L1167.0 506.8 L1167.7 507.1 L1168.3 506.2 L1168.9 504.5 L1169.6 502.8 L1170.4 501.6 L1171.5 501.1 L1172.7 500.9 L1174.0 501.1 L1175.2 501.6 L1176.5 502.8 L1177.7 504.6 L1179.0 506.2 L1180.0 507.1 L1180.9 506.5 L1181.6 505.2 L1182.2 503.7 L1182.8 502.9 L1183.3 503.4 L1183.7 504.5 L1184.2 505.5 L1184.8 505.7 L1185.7 504.4 L1186.8 502.1 L1187.9 499.9 L1188.9 498.8 L1189.9 499.3 L1190.7 500.8 L1191.6 502.4 L1192.4 503.6 L1193.1 504.1 L1193.8 504.4 L1194.4 504.4 L1195.1 504.3 L1195.8 504.1 L1196.5 503.6 L1197.2 503.1 L1197.9 502.9 L1198.4 503.2 L1198.9 503.8 L1199.4 504.3 L1200.0 504.3 L1200.8 503.5 L1201.7 502.2 L1202.6 500.9 L1203.4 500.2 L1204.2 500.4 L1204.8 501.1 L1205.5 501.9 L1206.2 502.3 L1206.9 501.9 L1207.5 501.1 L1208.2 500.4 L1208.9 500.2 L1209.6 501.0 L1210.3 502.3 L1211.0 503.7 L1211.7 504.3 L1212.4 503.8 L1213.2 502.5 L1214.0 501.3 L1214.8 500.9 L1215.5 501.9 L1216.3 503.8 L1217.1 505.6 L1217.8 506.4 L1218.5 505.4 L1219.2 503.3 L1219.9 501.2 L1220.6 500.2 L1221.4 501.0 L1222.3 502.9 L1223.2 504.8 L1224.0 505.7 L1224.7 505.1 L1225.4 503.8 L1226.0 502.1 L1226.8 500.9 L1227.7 500.0 L1228.8 499.2 L1229.9 498.7 L1230.9 498.8 L1231.7 499.9 L1232.3 501.6 L1233.0 503.3 L1233.6 504.3 L1234.3 504.1 L1235.0 503.1 L1235.7 502.1 L1236.4 501.6 L1237.0 502.0 L1237.7 503.1 L1238.4 504.0 L1239.1 504.3 L1240.0 503.5 L1240.9 501.9 L1241.8 500.3 L1242.6 499.5 L1243.1 499.9 L1243.6 501.1 L1244.0 502.3 L1244.6 502.9 L1245.4 502.6 L1246.3 501.7 L1247.2 500.7 L1248.0 500.2 L1248.8 500.4 L1249.4 500.9 L1250.1 501.5 L1250.8 501.6 L1251.6 500.9 L1252.5 499.8 L1253.3 498.7 L1254.2 498.1 L1255.1 498.3 L1255.9 499.0 L1256.7 499.8 L1257.7 500.2 L1258.7 500.0 L1259.8 499.5 L1260.8 499.0 L1261.8 498.8 L1262.6 499.2 L1263.2 499.9 L1263.9 500.7 L1264.5 501.6 L1265.2 502.5 L1265.8 503.7 L1266.5 504.6 L1267.3 505.0 L1268.0 504.6 L1268.8 503.6 L1269.7 502.5 L1270.7 501.6 L1271.8 500.8 L1273.0 500.1 L1274.3 499.6 L1275.5 499.5 L1276.7 500.1 L1278.0 501.2 L1279.2 502.3 L1280.3 502.9 L1281.3 502.7 L1282.1 502.0 L1283.0 501.2 L1283.7 500.9 L1284.5 501.2 L1285.2 502.0 L1285.9 502.7 L1286.5 502.9 L1287.0 502.4 L1287.5 501.4 L1287.9 500.5 L1288.5 500.2 L1289.3 500.9 L1290.1 502.1 L1291.0 503.4 L1292.0 504.3 L1293.2 504.5 L1294.6 504.4 L1295.9 504.1 L1296.8 504.0 L1297.5 504.0" stroke="#cfcf00" stroke-width="2.4" fill="none" stroke-linejoin="round"/>
<path d="M332 685.9 L1303.7 722.1" stroke="#ff0000" stroke-width="3.9" stroke-linecap="round" fill="none"/>
<path d="M326.0 768.5 L331.3 724.1 L333.3 725.9 L341.1 771.5 L343.3 768.5 L345.6 752.0 L347.9 752.0 L350.1 756.0 L351.6 756.9 L356.1 748.2 L359.9 747.0 L361.4 746.7 L363.7 749.7 L365.9 746.7 L367.4 739.9 L368.9 739.9 L374.2 773.0 L375.7 772.3 L380.2 757.2 L382.5 752.7 L386.3 739.9 L389.3 736.9 L390.8 731.6 L393.0 718.8 L394.8 717.3 L398.3 743.7 L400.6 752.0 L403.6 751.2 L407.3 774.5 L408.9 773.0 L415.6 732.4 L417.9 726.4 L419.4 726.8 L421.7 731.6 L425.4 755.7 L429.2 778.3 L431.4 781.3 L434.5 770.8 L439.0 736.1 L440.5 738.4 L443.5 755.7 L445.0 753.5 L448.0 739.9 L450.3 738.9 L452.5 740.7 L455.5 748.2 L457.0 757.2 L460.8 798.6 L464.6 767.8 L469.5 689.5 L470.6 690.2 L476.6 776.1 L478.1 776.8 L479.6 764.8 L482.7 751.2 L485.7 736.9 L487.2 741.4 L490.9 766.3 L493.9 755.0 L495.5 755.4 L497.0 761.7 L499.2 761.7 L502.2 735.4 L503.7 732.4 L506.7 752.7 L509.0 756.5 L510.5 757.2 L513.5 769.3 L515.8 766.3 L518.0 748.2 L520.3 752.0 L522.6 758.7 L524.8 759.9 L527.8 769.3 L530.1 766.3 L533.9 728.6 L535.4 727.1 L537.6 729.4 L541.4 755.7 L543.6 773.8 L545.9 773.8 L549.7 769.3 L551.2 762.5 L554.9 714.3 L557.2 722.6 L560.2 755.7 L561.7 759.5 L565.5 755.7 L567.7 770.8 L570.0 774.5 L573.0 757.2 L576.0 745.2 L579.0 715.8 L581.3 721.1 L584.3 760.2 L586.6 767.0 L591.1 777.6 L595.6 739.2 L597.1 740.7 L600.1 761.7 L602.4 763.3 L606.9 756.5 L610.7 745.2 L613.7 735.4 L615.2 733.9 L616.7 739.2 L620.5 761.7 L622.7 770.8 L625.0 769.3 L629.5 742.9 L631.7 749.7 L635.5 764.8 L638.5 767.8 L640.0 760.2 L643.8 714.3 L646.1 718.1 L649.8 757.2 L652.1 770.0 L654.3 769.6 L658.1 760.2 L661.1 748.2 L663.4 740.7 L665.6 742.2 L669.4 755.0 L672.4 752.7 L673.9 753.5 L676.9 749.7 L679.9 750.5 L683.0 762.5 L685.2 760.2 L688.2 739.2 L689.7 741.4 L692.7 760.2 L695.0 761.7 L696.5 761.0 L699.5 764.8 L704.0 737.7 L707.0 754.2 L708.6 756.9 L712.3 747.4 L717.6 742.6 L719.1 742.9 L722.1 760.2 L725.1 777.6 L728.1 776.1 L730.4 769.3 L734.9 712.8 L736.9 709.8 L741.7 736.1 L745.5 770.8 L747.0 771.5 L749.2 758.7 L752.2 764.0 L754.5 757.2 L758.3 733.1 L760.5 735.4 L762.8 749.7 L767.3 746.7 L772.6 753.5 L775.6 760.2 L777.1 760.5 L781.6 745.2 L783.9 744.4 L786.1 746.7 L789.9 766.3 L792.1 764.8 L795.2 746.7 L796.7 746.7 L799.7 757.2 L801.9 760.2 L804.2 757.2 L808.0 727.9 L810.2 731.6 L816.2 773.8 L822.3 743.7 L826.0 758.7 L828.3 761.0 L830.5 761.7 L832.8 764.0 L835.1 758.7 L837.3 745.2 L840.3 730.9 L842.6 733.9 L846.4 752.7 L848.6 760.2 L851.6 745.2 L853.9 747.4 L856.9 777.6 L858.4 779.8 L865.2 740.7 L867.9 729.4 L869.7 739.2 L872.7 773.0 L874.2 772.3 L877.2 745.2 L879.5 742.2 L881.7 739.9 L884.0 737.7 L889.3 768.5 L890.8 772.3 L893.8 749.7 L896.8 737.7 L900.6 740.7 L903.6 738.4 L905.8 739.2 L910.4 763.3 L912.6 767.0 L914.9 765.5 L917.9 757.2 L920.9 745.2 L923.9 755.0 L927.7 746.7 L929.9 748.2 L932.2 751.2 L934.5 739.2 L936.0 739.2 L940.5 767.8 L942.0 769.3 L945.0 746.7 L946.5 745.2 L949.5 754.2 L951.8 752.7 L955.5 764.8 L957.0 759.5 L960.1 738.9 L962.3 745.2 L965.3 754.2 L968.3 745.2 L972.1 741.4 L974.4 742.9 L978.1 759.5 L980.4 758.7 L982.7 753.5 L986.4 758.0 L990.2 754.2 L993.2 752.0 L997.0 730.9 L1000.0 730.9 L1005.2 773.0 L1010.5 741.4 L1012.8 742.9 L1017.3 747.4 L1021.8 761.0 L1025.6 752.0 L1028.6 746.7 L1032.3 734.6 L1036.9 758.0 L1038.4 759.5 L1041.4 748.9 L1044.4 749.7 L1048.2 734.6 L1049.7 735.4 L1054.2 758.0 L1057.2 759.5 L1062.5 743.7 L1067.7 753.5 L1071.5 737.7 L1073.8 743.7 L1076.8 760.2 L1079.0 758.0 L1082.0 749.7 L1086.6 736.9 L1088.8 742.2 L1091.8 764.8 L1093.3 764.0 L1096.4 739.2 L1097.9 739.9 L1100.9 753.5 L1104.6 748.9 L1108.4 757.2 L1109.9 756.9 L1112.9 748.9 L1115.9 757.2 L1118.2 758.7 L1119.7 758.7 L1122.7 763.3 L1127.2 747.4 L1129.5 745.9 L1131.7 745.2 L1134.0 743.7 L1137.0 754.2 L1139.3 755.7 L1141.5 751.2 L1143.8 750.9 L1146.8 761.0 L1148.3 758.0 L1151.3 738.4 L1155.8 757.2 L1159.6 736.9 L1161.1 737.7 L1164.1 755.7 L1166.4 756.0 L1167.9 752.7 L1170.9 756.5 L1175.4 735.4 L1179.2 746.7 L1182.2 750.5 L1185.2 764.8 L1190.5 736.1 L1193.5 742.9 L1195.8 743.7 L1198.0 748.2 L1201.0 785.8 L1204.8 742.9 L1207.8 726.4 L1210.8 727.9 L1213.1 737.7 L1216.1 767.0 L1218.3 767.0 L1227.4 742.2 L1229.6 743.7 L1234.2 758.7 L1238.7 751.2 L1240.2 752.4 L1242.4 749.7 L1244.7 733.1 L1247.0 736.9 L1250.0 752.7 L1251.5 752.0 L1253.0 755.7 L1256.7 770.0 L1261.3 729.4 L1263.5 733.1 L1265.8 751.2 L1268.0 752.7 L1270.3 760.2 L1272.6 777.6 L1274.1 775.3 L1277.8 736.1 L1280.1 738.4 L1282.3 750.5 L1283.9 747.4 L1286.1 747.4 L1289.9 777.6 L1291.4 776.8 L1295.9 739.2" stroke="#bebebe" stroke-width="2" fill="none" stroke-linejoin="round"/>
<rect x="166.6" y="18.6" width="372.8" height="162.7" fill="#fff" stroke="#787878" stroke-width="1.2"/>
<path d="M204.2 39.3 H259.9" stroke="#0000ff" stroke-width="1.0" stroke-opacity="0.65" fill="none"/>
<circle cx="232" cy="39.3" r="4.3" fill="#0000ff"/>
<path d="M204.2 69.5 H259.9" stroke="#00c8c8" stroke-width="1.0" stroke-opacity="0.65" fill="none"/>
<circle cx="232" cy="69.5" r="4.3" fill="#00c8c8"/>
<path d="M204.2 100.3 H259.9" stroke="#000" stroke-width="3.0" stroke-opacity="1.0" fill="none"/>
<path d="M204.2 130.3 H259.9" stroke="#bebebe" stroke-width="3.0" stroke-opacity="1.0" fill="none"/>
<path d="M204.2 161.5 H259.9" stroke="#ff0000" stroke-width="1.0" stroke-opacity="0.65" fill="none"/>
<circle cx="232" cy="161.5" r="4.3" fill="#ff0000"/>
<text font-size="33" font-weight="bold" transform="matrix(0.9785 0.0000 0.0000 0.9934 559.3846 81.6330)">SCG_054 gravimeter Onsala Space Observatory, Sweden</text>
<text font-size="26" font-weight="bold" transform="matrix(0.9258 0.0000 0.0000 0.9583 1077.5857 154.6839)">Stand-in barom. 20m</text>
<text font-size="28.5" font-weight="bold" transform="matrix(0.9798 0.0000 0.0000 1.0000 192.0021 887.5600)">The latest 1-hour, 1-second sampling</text>
<text font-size="28.5" font-weight="bold" transform="matrix(0.9764 0.0000 0.0000 0.9943 1011.1872 888.8621)">End at 2025-08-19 06:00:59 UTC</text>
<text font-size="48.5" font-weight="normal" transform="matrix(0.9929 0.0000 0.0000 1.0000 358.8621 1006.0000)">Time [min] from 2025-08-19 05:01:00 UTC</text>
<text font-size="50" font-weight="normal" transform="matrix(0.0000 -0.9626 1.0274 0.0000 59.0511 732.8943)">Obs&#8217;d Gravity [nm/s<tspan font-size="33" dy="-17">2</tspan><tspan font-size="50" dy="17">]</tspan></text>
<text font-size="49" font-weight="normal" transform="matrix(0.0000 -0.9781 1.0074 0.0000 1603.9603 467.7652)">Pressure [hPa]</text>
<text font-size="50" font-weight="normal" transform="matrix(0.0000 -0.9727 1.0097 0.0000 1613.0375 831.7446)">Tide [nm/s<tspan font-size="33" dy="-17">2</tspan><tspan font-size="50" dy="17">]</tspan></text>
<text font-size="24" font-weight="normal" transform="matrix(0.0000 -1.0006 1.0428 0.0000 1387.5587 393.4156)">1 DIV = 1 hPa/h</text>
<text font-size="24" font-weight="normal" transform="matrix(0.0000 -1.0004 0.9712 0.0000 1426.5248 406.8887)">average = -0.4978</text>
<text font-size="24" font-weight="normal" transform="matrix(0.0000 -1.0024 1.0026 0.0000 244.1622 604.5734)">Typical noise level</text>
<text font-size="23.5" font-weight="normal" transform="matrix(1.0311 0.0000 0.0000 1.0690 278.7303 48.0000)">Pressure</text>
<text font-size="23.5" font-weight="normal" transform="matrix(1.0207 0.0000 0.0000 1.0996 278.2496 78.7133)">dP/dt</text>
<text font-size="23.5" font-weight="normal" transform="matrix(1.0317 0.0000 0.0000 1.0304 278.7136 109.3010)">Residual</text>
<text font-size="23.5" font-weight="normal" transform="matrix(1.0300 0.0000 0.0000 0.9920 278.3881 139.0665)">... last 10 min.</text>
<text font-size="23.5" font-weight="normal" transform="matrix(1.0480 0.0000 0.0000 1.0085 278.9525 170.0000)">Theor.Tide</text>
<text font-size="28" text-anchor="end" transform="matrix(0.995 0 0 1.1 142.20 913.35)">-100</text>
<text font-size="28" text-anchor="end" transform="matrix(0.995 0 0 1.1 142.20 834.19)">-80</text>
<text font-size="28" text-anchor="end" transform="matrix(0.995 0 0 1.1 142.20 755.03)">-60</text>
<text font-size="28" text-anchor="end" transform="matrix(0.995 0 0 1.1 142.20 675.87)">-40</text>
<text font-size="28" text-anchor="end" transform="matrix(0.995 0 0 1.1 142.20 596.71)">-20</text>
<text font-size="28" text-anchor="end" transform="matrix(0.995 0 0 1.1 142.20 517.55)">0</text>
<text font-size="28" text-anchor="end" transform="matrix(0.995 0 0 1.1 142.20 438.39)">20</text>
<text font-size="28" text-anchor="end" transform="matrix(0.995 0 0 1.1 142.20 359.23)">40</text>
<text font-size="28" text-anchor="end" transform="matrix(0.995 0 0 1.1 142.20 280.07)">60</text>
<text font-size="28" text-anchor="end" transform="matrix(0.995 0 0 1.1 142.20 200.91)">80</text>
<text font-size="28" text-anchor="end" transform="matrix(0.995 0 0 1.1 142.20 121.75)">100</text>
<text font-size="28" text-anchor="middle" transform="matrix(0.995 0 0 1.1 163.10 944.80)">-10</text>
<text font-size="28" text-anchor="middle" transform="matrix(0.995 0 0 1.1 325.15 944.80)">0</text>
<text font-size="28" text-anchor="middle" transform="matrix(0.995 0 0 1.1 487.20 944.80)">10</text>
<text font-size="28" text-anchor="middle" transform="matrix(0.995 0 0 1.1 649.25 944.80)">20</text>
<text font-size="28" text-anchor="middle" transform="matrix(0.995 0 0 1.1 811.30 944.80)">30</text>
<text font-size="28" text-anchor="middle" transform="matrix(0.995 0 0 1.1 973.35 944.80)">40</text>
<text font-size="28" text-anchor="middle" transform="matrix(0.995 0 0 1.1 1135.40 944.80)">50</text>
<text font-size="28" text-anchor="middle" transform="matrix(0.995 0 0 1.1 1297.45 944.80)">60</text>
<text font-size="28" text-anchor="middle" transform="matrix(0.995 0 0 1.1 1459.50 944.80)">70</text>
<text font-size="28" text-anchor="start" transform="matrix(0.995 0 0 1.1 1480.00 451.70)">1006</text>
<text font-size="28" text-anchor="start" transform="matrix(0.995 0 0 1.1 1480.00 385.60)">1008</text>
<text font-size="28" text-anchor="start" transform="matrix(0.995 0 0 1.1 1480.00 319.50)">1010</text>
<text font-size="28" text-anchor="start" transform="matrix(0.995 0 0 1.1 1480.00 253.40)">1012</text>
<text font-size="28" text-anchor="start" transform="matrix(0.995 0 0 1.1 1480.00 187.30)">1014</text>
<text font-size="28" text-anchor="end" transform="matrix(0.995 0 0 1.1 1551.20 582.88)">1000</text>
<text font-size="28" text-anchor="end" transform="matrix(0.995 0 0 1.1 1551.20 648.87)">500</text>
<text font-size="28" text-anchor="end" transform="matrix(0.995 0 0 1.1 1551.20 714.85)">0</text>
<text font-size="28" text-anchor="end" transform="matrix(0.995 0 0 1.1 1551.20 780.84)">-500</text>
<text font-size="28" text-anchor="end" transform="matrix(0.995 0 0 1.1 1551.20 846.82)">-1000</text>
<text font-size="28" text-anchor="end" transform="matrix(0.995 0 0 1.1 1551.20 912.81)">-1500</text>
</svg></body></html>
